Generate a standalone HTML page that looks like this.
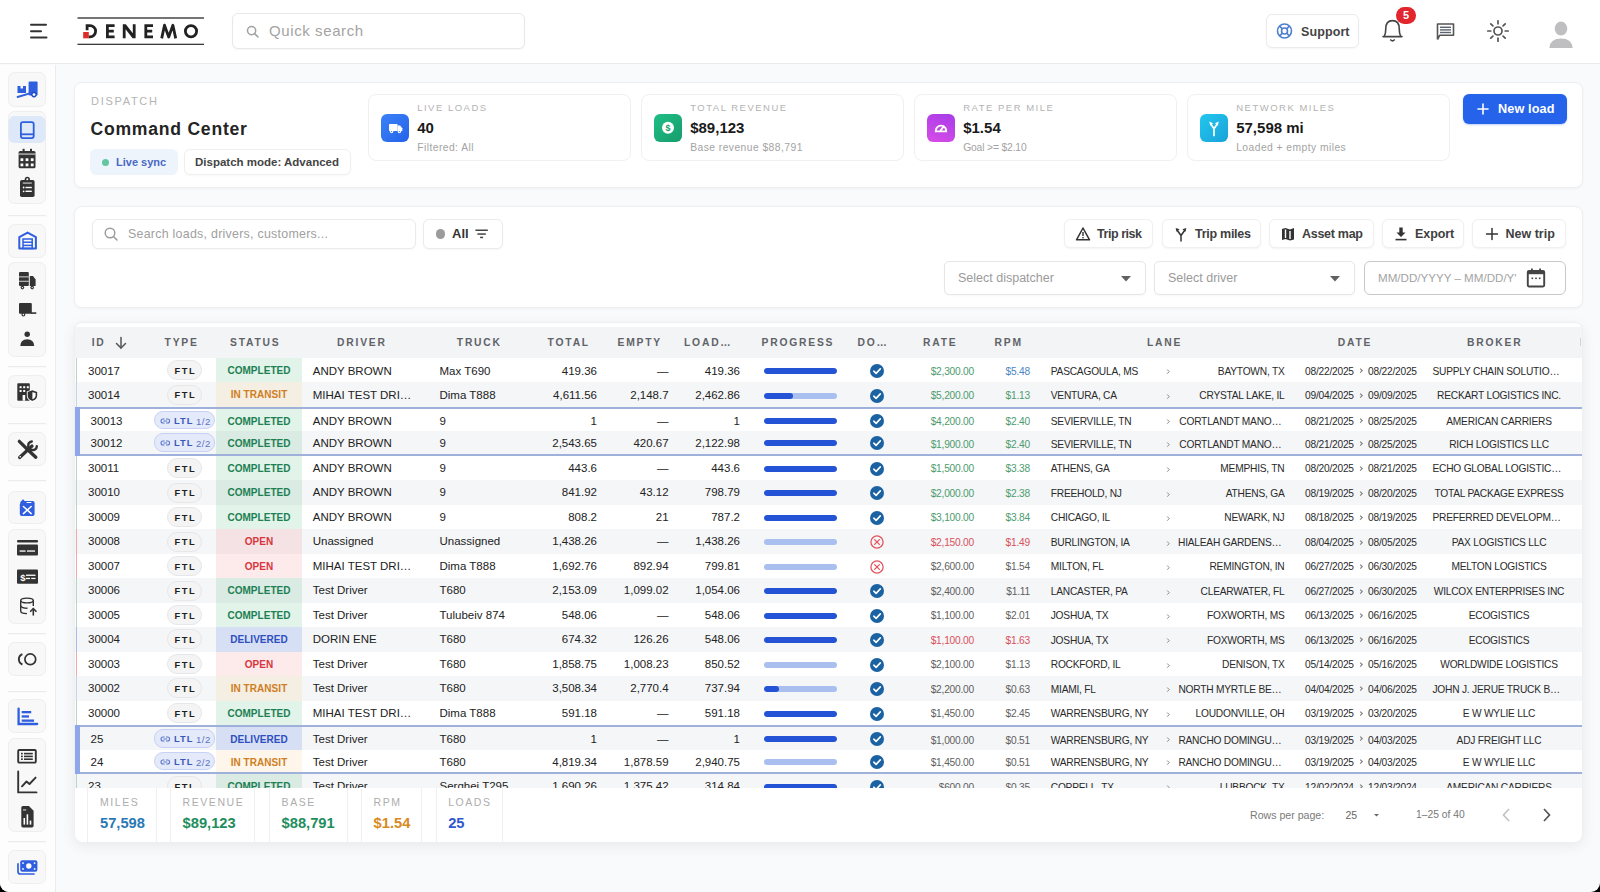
<!DOCTYPE html><html><head><meta charset="utf-8"><style>
*{box-sizing:border-box;margin:0;padding:0}
html,body{width:1600px;height:892px;overflow:hidden;background:#000}
body{font-family:"Liberation Sans",sans-serif;color:#222;position:relative}
.abs{position:absolute}
#app{position:absolute;left:0;top:0;width:1600px;height:892px;background:#f9fafb;border-radius:0 0 9px 9px;overflow:hidden}
.t{position:absolute;white-space:nowrap}
.card{position:absolute;background:#fff;border:1px solid #eeeff1;border-radius:8px;box-shadow:0 1px 3px rgba(0,0,0,0.04)}
.btn{position:absolute;background:#fff;border:1px solid #ebebeb;border-radius:6px;box-shadow:0 1px 2px rgba(0,0,0,0.04)}
.kpi{position:absolute;top:94px;width:263px;height:67px;background:#fff;border:1px solid #f0f0f1;border-radius:8px}
.kpi .ic{position:absolute;left:12.3px;top:19px;width:28px;height:28px;border-radius:6px}
.kpi .lb{position:absolute;left:48.2px;top:6.5px;font-size:9.5px;letter-spacing:1.5px;color:#b3b3b3;white-space:nowrap}
.kpi .vl{position:absolute;left:48.2px;top:24px;font-size:15px;font-weight:bold;color:#1a1a1a;white-space:nowrap}
.kpi .sb{position:absolute;left:48.2px;top:47px;font-size:10.3px;letter-spacing:0.45px;color:#a3a3a3;white-space:nowrap}
.hd{position:absolute;top:327px;height:31px;line-height:31px;font-size:10.3px;font-weight:bold;letter-spacing:1.8px;color:#5f6368;white-space:nowrap}
.row{position:absolute;left:75px;width:1507px}
.c{position:absolute;top:0;white-space:nowrap;font-size:11.5px;color:#222}
.sm{font-size:10.2px;letter-spacing:-0.22px;margin-top:0.5px}
</style></head><body><div id="app"><div class="abs" style="left:0;top:0;width:1600px;height:64px;background:#fff;border-bottom:1px solid #e9eaec"></div><svg class="abs" style="left:0;top:0" width="220" height="64"><g fill="#333"><rect x="30" y="23.8" width="17" height="2" rx="1"/><rect x="30" y="30.3" width="12" height="2" rx="1"/><rect x="30" y="36.6" width="17.5" height="2" rx="1"/></g><rect x="77.5" y="17.3" width="126.5" height="1.4" fill="#3a3a3a"/><rect x="77.5" y="43.7" width="126.5" height="1.3" fill="#3a3a3a"/><g fill="none" stroke="#222" stroke-width="2.8"><path d="M87.1 30.2 V25.6 H90 A5.6 5.6 0 0 1 90 36.8 H88.6"/><path d="M114.6 25.6 H107.4 V36.8 H114.6 M107.4 31.2 H113.8"/><path d="M153 25.6 H145.8 V36.8 H153 M145.8 31.2 H152.2"/><path d="M161.7 38.4 L164.5 25.2 L168.7 37.0 L172.9 25.2 L175.7 38.4" stroke-linejoin="round"/><circle cx="191" cy="31.2" r="5.6"/></g><rect x="83.2" y="32" width="5.6" height="6.3" fill="#e12a2a"/><path d="M122.8 38.2 V24.2 H125.8 L132.8 33.2 V24.2 H135.6 V38.2 H132.6 L125.6 29.2 V38.2 Z" fill="#222"/></svg><div class="btn" style="left:232px;top:13px;width:293px;height:36px;border-color:#e8e8e8"></div><svg class="abs" style="left:246px;top:25px" width="14" height="14"><circle cx="5.6" cy="5.6" r="4.1" fill="none" stroke="#a0a0a0" stroke-width="1.5"/><line x1="8.6" y1="8.6" x2="12" y2="12" stroke="#a0a0a0" stroke-width="1.6" stroke-linecap="round"/></svg><div class="t" style="left:269px;top:22px;font-size:15px;color:#a3a3a3;letter-spacing:0.6px">Quick search</div><div class="btn" style="left:1266px;top:14px;width:93px;height:34px"></div><svg class="abs" style="left:1275px;top:21px" width="20" height="20"><g fill="none" stroke="#4d7fd1" stroke-width="1.6"><circle cx="9.5" cy="10" r="7"/><circle cx="9.5" cy="10" r="3"/><line x1="4.6" y1="5.1" x2="7.4" y2="7.9"/><line x1="14.4" y1="5.1" x2="11.6" y2="7.9"/><line x1="4.6" y1="14.9" x2="7.4" y2="12.1"/><line x1="14.4" y1="14.9" x2="11.6" y2="12.1"/></g></svg><div class="t" style="left:1301px;top:24.5px;font-size:12.5px;font-weight:bold;color:#444;letter-spacing:0.1px">Support</div><svg class="abs" style="left:1378px;top:16px" width="30" height="30"><path d="M5 20.6 H24 M6.2 20.6 Q7.8 18 7.8 12.6 Q7.8 4.6 14.5 4.6 Q21.2 4.6 21.2 12.6 Q21.2 18 22.8 20.6" fill="none" stroke="#444" stroke-width="1.6" stroke-linejoin="round" stroke-linecap="round"/><path d="M12.8 24 Q14.5 25.6 16.2 24" fill="none" stroke="#444" stroke-width="1.7" stroke-linecap="round"/></svg><div class="abs" style="left:1396.3px;top:7.2px;width:19.6px;height:16.6px;border-radius:8.3px;background:#e1262d"></div><div class="t" style="left:1396.3px;top:8px;width:19.6px;text-align:center;font-size:11px;font-weight:bold;color:#fff;line-height:15px">5</div><svg class="abs" style="left:1430px;top:16px" width="30" height="30"><path d="M7.5 23.5 V8 H23.5 V19.2 H9.8 L7.5 23.5" fill="none" stroke="#555" stroke-width="1.6" stroke-linejoin="round"/><g fill="#5b6470"><rect x="10" y="10.6" width="11" height="1.4"/><rect x="10" y="13.2" width="11" height="1.4"/><rect x="10" y="15.8" width="11" height="1.4"/></g></svg><svg class="abs" style="left:1483px;top:16px" width="30" height="30"><g fill="none" stroke="#555" stroke-width="1.7" stroke-linecap="round"><circle cx="15" cy="15" r="4"/><line x1="22.20" y1="15.00" x2="25.20" y2="15.00"/><line x1="20.09" y1="20.09" x2="22.21" y2="22.21"/><line x1="15.00" y1="22.20" x2="15.00" y2="25.20"/><line x1="9.91" y1="20.09" x2="7.79" y2="22.21"/><line x1="7.80" y1="15.00" x2="4.80" y2="15.00"/><line x1="9.91" y1="9.91" x2="7.79" y2="7.79"/><line x1="15.00" y1="7.80" x2="15.00" y2="4.80"/><line x1="20.09" y1="9.91" x2="22.21" y2="7.79"/></g></svg><svg class="abs" style="left:1545px;top:18px" width="32" height="32"><g fill="#bfbfc1"><ellipse cx="16" cy="10.6" rx="6.3" ry="7"/><path d="M4.3 30 Q5 20.5 16 20.5 Q27 20.5 27.7 30 Z"/></g></svg><div class="abs" style="left:0;top:65px;width:56px;height:827px;background:#fdfdfd;border-right:1px solid #ececee"></div><svg class="abs" style="left:0;top:0" width="56" height="892" viewBox="0 0 56 892"><rect x="8.5" y="72.5" width="37" height="34" rx="6" fill="#f8f8f9" stroke="#eeeeef" stroke-width="1"/><rect x="8.5" y="111.5" width="37" height="92" rx="6" fill="#f8f8f9" stroke="#eeeeef" stroke-width="1"/><rect x="8.5" y="224.5" width="37" height="33" rx="6" fill="#f8f8f9" stroke="#eeeeef" stroke-width="1"/><rect x="8.5" y="262.5" width="37" height="94" rx="6" fill="#f8f8f9" stroke="#eeeeef" stroke-width="1"/><rect x="8.5" y="375.5" width="37" height="32" rx="6" fill="#f8f8f9" stroke="#eeeeef" stroke-width="1"/><rect x="8.5" y="432.5" width="37" height="33" rx="6" fill="#f8f8f9" stroke="#eeeeef" stroke-width="1"/><rect x="8.5" y="491.5" width="37" height="32" rx="6" fill="#f8f8f9" stroke="#eeeeef" stroke-width="1"/><rect x="8.5" y="529.5" width="37" height="94" rx="6" fill="#f8f8f9" stroke="#eeeeef" stroke-width="1"/><rect x="8.5" y="642.5" width="37" height="33" rx="6" fill="#f8f8f9" stroke="#eeeeef" stroke-width="1"/><rect x="8.5" y="699.5" width="37" height="33" rx="6" fill="#f8f8f9" stroke="#eeeeef" stroke-width="1"/><rect x="8.5" y="738.5" width="37" height="93" rx="6" fill="#f8f8f9" stroke="#eeeeef" stroke-width="1"/><rect x="8.5" y="850.5" width="37" height="33" rx="6" fill="#f8f8f9" stroke="#eeeeef" stroke-width="1"/><rect x="8" y="215" width="38" height="1.2" fill="#ebebec"/><rect x="8" y="366" width="38" height="1.2" fill="#ebebec"/><rect x="8" y="423" width="38" height="1.2" fill="#ebebec"/><rect x="8" y="480" width="38" height="1.2" fill="#ebebec"/><rect x="8" y="633" width="38" height="1.2" fill="#ebebec"/><rect x="8" y="691" width="38" height="1.2" fill="#ebebec"/><rect x="8" y="841" width="38" height="1.2" fill="#ebebec"/><rect x="8.5" y="116" width="37" height="27" rx="6" fill="#dde8f8"/><g fill="#2f5fdf"><rect x="28.6" y="81.5" width="9" height="14" rx="1"/><path d="M17.5 86 h3 v2.5 h2.5 v-2.5 h3 v7 h-8.5z"/><line x1="17.6" y1="97" x2="29" y2="93.6" stroke="#2f5fdf" stroke-width="1.9" stroke-linecap="round"/><circle cx="34" cy="94.6" r="2.8" fill="#1f4bc4"/><circle cx="34" cy="94.6" r="1.4" fill="#fff"/></g><g fill="none" stroke="#2f5fdf" stroke-width="1.8"><rect x="20.9" y="122.1" width="12.8" height="16" rx="2"/><line x1="20.9" y1="134.3" x2="33.7" y2="134.3"/></g><g fill="#333333"><rect x="18.6" y="151" width="16.9" height="17.2" rx="1.5"/><rect x="22.6" y="148.8" width="2" height="3.5"/><rect x="30" y="148.8" width="2" height="3.5"/></g><g fill="#fff"><rect x="18.6" y="153.6" width="16.9" height="0.9"/><rect x="20.5" y="158.3" width="2.8" height="2.8"/><rect x="25.6" y="158.3" width="2.8" height="2.8"/><rect x="30.8" y="158.3" width="2.8" height="2.8"/><rect x="20.5" y="163.5" width="2.8" height="2.8"/><rect x="25.6" y="163.5" width="2.8" height="2.8"/><rect x="30.8" y="163.5" width="2.8" height="2.8"/></g><g fill="#333333"><rect x="20" y="180" width="14.6" height="17" rx="1.8"/><circle cx="27.3" cy="179.3" r="2.6"/></g><g fill="#fff"><circle cx="27.3" cy="179.3" r="1"/><rect x="22.8" y="182.6" width="9" height="0.9"/><circle cx="23.6" cy="187.5" r="0.9"/><rect x="25.5" y="186.8" width="6.3" height="1.4"/><circle cx="23.6" cy="191.3" r="0.9"/><rect x="25.5" y="190.6" width="6.3" height="1.4"/></g><g fill="none" stroke="#2f5fdf" stroke-width="2" stroke-linejoin="round"><path d="M19.3 248.5 V237.2 L27.6 232.6 L35.9 237.2 V248.5 Z"/></g><g fill="none" stroke="#2f5fdf" stroke-width="1.5"><rect x="23" y="239" width="9.2" height="9.5"/><line x1="23" y1="242.2" x2="32.2" y2="242.2"/><line x1="23" y1="245.4" x2="32.2" y2="245.4"/></g><g fill="#333333"><rect x="19" y="272" width="9.8" height="14" rx="1"/><path d="M29.8 276 h3.2 l2.6 3.5 v6.5 h-5.8z"/><circle cx="22.4" cy="287.6" r="1.8"/><circle cx="32.2" cy="287.6" r="1.8"/></g><g fill="#fff"><rect x="19" y="276.5" width="9.8" height="0.8"/><rect x="19" y="280.8" width="9.8" height="0.8"/><circle cx="22.4" cy="287.6" r="0.7"/><circle cx="32.2" cy="287.6" r="0.7"/></g><g fill="#333333"><rect x="19" y="303" width="12.8" height="10.8" rx="1"/><rect x="31" y="312.3" width="5.3" height="1.6"/><circle cx="23.4" cy="314.6" r="1.9"/></g><circle cx="23.4" cy="314.6" r="0.8" fill="#fff"/><g fill="#333333"><circle cx="27.2" cy="334.2" r="2.7"/><path d="M20.3 346 Q20.6 339.2 27.2 339.2 Q33.9 339.2 34.2 346 Z"/></g><g fill="#333333"><rect x="17.3" y="383.3" width="12.5" height="17.4" rx="0.8"/></g><g fill="#fff"><rect x="19.6" y="386.2" width="2" height="2"/><rect x="23.2" y="386.2" width="2" height="2"/><rect x="26.8" y="386.2" width="2" height="2"/><rect x="19.6" y="390" width="2" height="2"/><rect x="23.2" y="390" width="2" height="2"/><rect x="22.6" y="395" width="2.6" height="5.7"/></g><path d="M27.6 392 L32.4 390.3 L37.3 392 V395.5 Q37.3 399.5 32.4 401 Q27.6 399.5 27.6 395.5 Z" fill="#fff" stroke="#fff" stroke-width="1.6"/><path d="M28.5 392.6 L32.4 391.2 L36.4 392.6 V395.5 Q36.4 398.9 32.4 400.1 Q28.5 398.9 28.5 395.5 Z" fill="none" stroke="#333333" stroke-width="1.6"/><path d="M32.4 391.2 V400.1 Q28.5 398.9 28.5 395.5 V392.6 Z" fill="#333333"/><g stroke="#333333" stroke-linecap="round" fill="none"><line x1="19.3" y1="441.3" x2="26.5" y2="448.5" stroke-width="3.2"/><line x1="27.5" y1="449.5" x2="35.8" y2="457.2" stroke-width="3.4"/><line x1="32" y1="446" x2="19.6" y2="457.5" stroke-width="3.2"/><path d="M31.8 441.5 A4.3 4.3 0 1 0 36.8 446.3" stroke-width="2.4"/></g><circle cx="20.2" cy="456.8" r="0.8" fill="#fff"/><g fill="#2f5fdf"><path d="M22 501 h10.6 a2 2 0 0 1 2 2 v11 a2 2 0 0 1 -2 2 h-10.8 a2 2 0 0 1 -2 -2 v-10 z"/><path d="M20 502.5 L23 499.2 L24.5 500.5 L21.5 503.5z"/></g><g stroke="#fff" stroke-width="1.5" stroke-linecap="round"><line x1="23.4" y1="506.5" x2="31.2" y2="513.6"/><line x1="31.2" y1="506.5" x2="23.4" y2="513.6"/><line x1="27" y1="502.5" x2="31" y2="502.5" stroke-width="1"/></g><g fill="#333333"><rect x="17" y="540" width="21" height="2.6" rx="1"/><rect x="17" y="544.6" width="21" height="10.8" rx="1"/></g><g fill="#fff"><rect x="19.6" y="550.4" width="6" height="1.3"/><rect x="27" y="550.4" width="8" height="1.3"/></g><g fill="#333333"><rect x="17" y="569.6" width="21" height="14.1" rx="1"/></g><text x="20.2" y="580.8" font-family="Liberation Sans" font-weight="bold" font-size="9.5" fill="#fff">$</text><g fill="#fff"><rect x="26" y="574.6" width="9.5" height="1.3"/><rect x="26" y="577.8" width="4" height="1.3"/><rect x="31.2" y="577.8" width="4.3" height="1.3"/></g><g fill="none" stroke="#333333" stroke-width="1.4"><ellipse cx="27" cy="600.5" rx="6.3" ry="2.4"/><path d="M20.7 600.5 V611 Q20.7 613.6 27 613.6"/><path d="M33.3 600.5 V606"/><path d="M20.7 605.7 Q21.5 608.2 27.5 608.2"/></g><g stroke="#333333" stroke-width="1.6" fill="none" stroke-linecap="round"><line x1="33.3" y1="609" x2="33.3" y2="615"/><path d="M30.6 611.3 L33.3 608.6 L36 611.3"/></g><g fill="none" stroke="#333333" stroke-width="1.7"><circle cx="30.3" cy="659.3" r="5.4"/><path d="M22.4 654.1 A5.6 5.6 0 0 0 22.4 664.5" stroke-width="1.9"/></g><g fill="none" stroke="#2f5fdf" stroke-width="2.3" stroke-linecap="round"><path d="M18.6 708.6 V724 H37.2"/></g><g fill="#2f5fdf"><rect x="21.7" y="711" width="9.5" height="2.3"/><rect x="21.7" y="715.3" width="7.3" height="2.3"/><rect x="21.7" y="719.5" width="12.3" height="2.3"/></g><g fill="none" stroke="#333333" stroke-width="1.9"><rect x="18.2" y="750" width="17.6" height="12.6" rx="1"/></g><g fill="#333333"><rect x="21" y="752.8" width="1.8" height="1.6"/><rect x="24" y="752.8" width="8.8" height="1.6"/><rect x="21" y="755.6" width="1.8" height="1.6"/><rect x="24" y="755.6" width="8.8" height="1.6"/><rect x="21" y="758.4" width="1.8" height="1.6"/><rect x="24" y="758.4" width="8.8" height="1.6"/></g><g fill="none" stroke="#333333" stroke-width="1.9" stroke-linecap="round" stroke-linejoin="round"><path d="M18.2 771.5 V792.4 H36.5"/><path d="M22 786.3 L26.5 781.5 L29.5 784 L35.6 777.6"/></g><path d="M21.3 807.6 a1.6 1.6 0 0 1 1.6 -1.6 h6 l4.7 4.7 v15.1 a1.6 1.6 0 0 1 -1.6 1.6 h-9.1 a1.6 1.6 0 0 1 -1.6 -1.6 z" fill="#333333"/><g fill="#fff"><rect x="23.5" y="818" width="1.6" height="6.6"/><rect x="26.6" y="814.3" width="1.6" height="10.3"/><rect x="29.7" y="820.6" width="1.6" height="4"/><rect x="23" y="809.5" width="3.2" height="0.9"/></g><g fill="none" stroke="#2f5fdf" stroke-width="1.7" stroke-linecap="round"><path d="M18 863.8 V871.5 Q18 874 20.5 874 H34"/></g><rect x="20.2" y="860.3" width="17.2" height="11.5" rx="2" fill="#2f5fdf"/><g fill="#fff"><circle cx="28.8" cy="866" r="2.7"/><circle cx="23" cy="863.1" r="0.9"/><circle cx="34.6" cy="863.1" r="0.9"/><circle cx="23" cy="868.9" r="0.9"/><circle cx="34.6" cy="868.9" r="0.9"/></g></svg><div class="card" style="left:74px;top:82px;width:1509px;height:106px"></div><div class="t" style="left:91px;top:95px;font-size:11px;letter-spacing:1.7px;color:#b4b4b4">DISPATCH</div><div class="t" style="left:90.5px;top:118.5px;font-size:17.6px;font-weight:bold;color:#242424;letter-spacing:0.75px">Command Center</div><div class="abs" style="left:90px;top:149px;width:88px;height:26px;border-radius:6px;background:#eef4fc"></div><div class="abs" style="left:101.8px;top:158.6px;width:7px;height:7px;border-radius:50%;background:#62c7a0"></div><div class="t" style="left:116px;top:156px;font-size:11px;font-weight:bold;color:#4a68c4">Live sync</div><div class="btn" style="left:183.5px;top:149px;width:167.5px;height:26px;box-shadow:0 1px 2px rgba(0,0,0,0.03);border-color:#efefef"></div><div class="t" style="left:195px;top:156px;font-size:11.5px;font-weight:bold;color:#444">Dispatch mode: Advanced</div><div class="kpi" style="left:368px"><div class="ic" style="background:linear-gradient(135deg,#3b82f6,#2563eb)"><svg width="28" height="28"><g fill="#fff"><rect x="8" y="10" width="8.6" height="7" rx="0.8"/><path d="M16.6 11.6 h2.5 l2.2 2.6 v2.8 h-4.7z"/><circle cx="10.6" cy="17.6" r="1.7"/><circle cx="18.4" cy="17.6" r="1.7"/></g><g fill="#2f74ee"><circle cx="10.6" cy="17.6" r="0.6"/><circle cx="18.4" cy="17.6" r="0.6"/></g></svg></div><div class="lb">LIVE LOADS</div><div class="vl">40</div><div class="sb" style="">Filtered: All</div></div><div class="kpi" style="left:641px"><div class="ic" style="background:linear-gradient(135deg,#1fbf85,#179c6d)"><svg width="28" height="28"><circle cx="14" cy="13.8" r="6" fill="#fff"/><text x="14" y="17.1" text-anchor="middle" font-family="Liberation Sans" font-weight="bold" font-size="9" fill="#1b9a6c">$</text></svg></div><div class="lb">TOTAL REVENUE</div><div class="vl">$89,123</div><div class="sb" style="">Base revenue $88,791</div></div><div class="kpi" style="left:914px"><div class="ic" style="background:linear-gradient(200deg,#a73ce8,#d84ce6)"><svg width="28" height="28"><path d="M7.8 18.2 A6.3 6.3 0 1 1 20.2 18.2 Z" fill="#fff"/><path d="M9.8 16.6 A4.2 4.2 0 1 1 18.2 16.6 Z" fill="#c046e4"/><line x1="13.6" y1="16.4" x2="16.6" y2="12.6" stroke="#fff" stroke-width="1.8" stroke-linecap="round"/></svg></div><div class="lb">RATE PER MILE</div><div class="vl">$1.54</div><div class="sb" style="letter-spacing:-0.15px">Goal &gt;= $2.10</div></div><div class="kpi" style="left:1187px"><div class="ic" style="background:linear-gradient(135deg,#22c7ef,#19a2d8)"><svg width="28" height="28"><g fill="none" stroke="#fff" stroke-width="1.7" stroke-linecap="round" stroke-linejoin="round"><path d="M14 21.5 V14.8 L10.8 10 M14 14.8 L17.2 10"/></g><g fill="#fff"><path d="M9.2 7.6 L13 9.2 L10.2 11.8z"/><path d="M18.8 7.6 L15 9.2 L17.8 11.8z"/></g></svg></div><div class="lb">NETWORK MILES</div><div class="vl">57,598 mi</div><div class="sb" style="">Loaded + empty miles</div></div><div class="abs" style="left:1463px;top:94px;width:103.5px;height:30px;border-radius:6px;background:#2563eb;box-shadow:0 1px 2px rgba(37,99,235,0.3)"></div><svg class="abs" style="left:1476px;top:102px" width="14" height="14"><g stroke="#fff" stroke-width="1.6" stroke-linecap="round"><line x1="7" y1="2" x2="7" y2="12"/><line x1="2" y1="7" x2="12" y2="7"/></g></svg><div class="t" style="left:1498px;top:101.5px;font-size:12.7px;font-weight:bold;color:#fff;letter-spacing:0.1px">New load</div><div class="card" style="left:74px;top:206px;width:1509px;height:102px"></div><div class="btn" style="left:92px;top:219px;width:324px;height:29.5px;box-shadow:0 1px 2px rgba(0,0,0,0.03)"></div><svg class="abs" style="left:103px;top:226px" width="16" height="16"><circle cx="7" cy="7" r="4.8" fill="none" stroke="#9a9a9a" stroke-width="1.4"/><line x1="10.5" y1="10.5" x2="14" y2="14" stroke="#9a9a9a" stroke-width="1.5" stroke-linecap="round"/></svg><div class="t" style="left:128px;top:227.3px;font-size:12.4px;color:#a0a0a0;letter-spacing:0.27px">Search loads, drivers, customers...</div><div class="btn" style="left:423px;top:219px;width:80px;height:29.5px"></div><div class="abs" style="left:435.7px;top:229px;width:9.6px;height:9.6px;border-radius:50%;background:#9b9b9b"></div><div class="t" style="left:452px;top:226px;font-size:13px;font-weight:bold;color:#333">All</div><svg class="abs" style="left:474px;top:226px" width="16" height="16"><g fill="#444"><rect x="1.4" y="3.5" width="12.4" height="1.5"/><rect x="3.4" y="7.3" width="8.4" height="1.5"/><rect x="6.1" y="10.7" width="3" height="1.5"/></g></svg><div class="btn" style="left:1064px;top:219px;width:89px;height:29px;border-color:#f0f0f0;box-shadow:0 1px 2px rgba(0,0,0,0.05)"></div><div class="abs" style="left:1074px;top:225px;width:18px;height:18px"><svg width="18" height="18"><path d="M9 3 L15.5 14.8 H2.5 Z" fill="none" stroke="#333" stroke-width="1.5" stroke-linejoin="round"/><rect x="8.3" y="7" width="1.4" height="4" fill="#333"/><rect x="8.3" y="12" width="1.4" height="1.4" fill="#333"/></svg></div><div class="t" style="left:1097px;top:226.5px;font-size:12.5px;font-weight:bold;color:#3f3f3f;letter-spacing:-0.45px">Trip risk</div><div class="btn" style="left:1161.6px;top:219px;width:99.4px;height:29px;border-color:#f0f0f0;box-shadow:0 1px 2px rgba(0,0,0,0.05)"></div><div class="abs" style="left:1172px;top:225px;width:18px;height:18px"><svg width="18" height="18"><g fill="none" stroke="#333" stroke-width="1.5" stroke-linecap="round" stroke-linejoin="round"><path d="M9 16 V10.5 L5.2 5.2 M9 10.5 L12.8 5.2"/></g><g fill="#333"><path d="M3.6 3 L7.6 4.2 L4.6 6.8z"/><path d="M14.4 3 L10.4 4.2 L13.4 6.8z"/></g></svg></div><div class="t" style="left:1195px;top:226.5px;font-size:12.5px;font-weight:bold;color:#3f3f3f;letter-spacing:-0.27px">Trip miles</div><div class="btn" style="left:1269.4px;top:219px;width:104.6px;height:29px;border-color:#f0f0f0;box-shadow:0 1px 2px rgba(0,0,0,0.05)"></div><div class="abs" style="left:1279px;top:225px;width:18px;height:18px"><svg width="18" height="18"><path d="M3 4 L6.5 3 L11 4.5 L15 3 V14.5 L11 15.5 L6.5 14 L3 15z" fill="#333"/><path d="M6.5 4.5 V13 M11 6 V14" stroke="#fff" stroke-width="1.4"/></svg></div><div class="t" style="left:1302px;top:226.5px;font-size:12.5px;font-weight:bold;color:#3f3f3f;letter-spacing:-0.28px">Asset map</div><div class="btn" style="left:1381.6px;top:219px;width:82.4px;height:29px;border-color:#f0f0f0;box-shadow:0 1px 2px rgba(0,0,0,0.05)"></div><div class="abs" style="left:1392px;top:225px;width:18px;height:18px"><svg width="18" height="18"><g fill="#333"><path d="M7.3 2.5 h3.4 v5 h2.8 L9 12 L4.5 7.5 h2.8z"/><rect x="3.5" y="13.8" width="11" height="1.6"/></g></svg></div><div class="t" style="left:1415px;top:226.5px;font-size:12.5px;font-weight:bold;color:#3f3f3f;letter-spacing:-0.08px">Export</div><div class="btn" style="left:1471.6px;top:219px;width:94.4px;height:29px;border-color:#f0f0f0;box-shadow:0 1px 2px rgba(0,0,0,0.05)"></div><div class="abs" style="left:1482.5px;top:225px;width:18px;height:18px"><svg width="18" height="18"><g stroke="#333" stroke-width="1.5" stroke-linecap="round"><line x1="9" y1="3.5" x2="9" y2="14.5"/><line x1="3.5" y1="9" x2="14.5" y2="9"/></g></svg></div><div class="t" style="left:1505.5px;top:226.5px;font-size:12.5px;font-weight:bold;color:#3f3f3f;letter-spacing:0px">New trip</div><div class="btn" style="left:943.7px;top:260.5px;width:202px;height:34px;border-color:#e6e6e6;border-radius:5px;box-shadow:0 1px 2px rgba(0,0,0,0.03)"></div><div class="t" style="left:958.0px;top:270.5px;font-size:12.5px;color:#9b9b9b">Select dispatcher</div><svg class="abs" style="left:1121px;top:276px" width="11" height="6"><path d="M0 0 H10 L5 5.5z" fill="#616161"/></svg><div class="btn" style="left:1153.7px;top:260.5px;width:201.5px;height:34px;border-color:#e6e6e6;border-radius:5px;box-shadow:0 1px 2px rgba(0,0,0,0.03)"></div><div class="t" style="left:1168.0px;top:270.5px;font-size:12.5px;color:#9b9b9b">Select driver</div><svg class="abs" style="left:1330px;top:276px" width="11" height="6"><path d="M0 0 H10 L5 5.5z" fill="#616161"/></svg><div class="abs" style="left:1363.7px;top:260.5px;width:202.5px;height:34.5px;border:1.6px solid #c8c8c8;border-radius:6px;background:#fff"></div><div class="t" style="left:1378px;top:270.7px;font-size:11.6px;color:#a3a3a3">MM/DD/YYYY – MM/DD/Y&#39;</div><svg class="abs" style="left:1526px;top:267px" width="20" height="22"><rect x="1.8" y="4" width="16.4" height="15.5" rx="1.2" fill="none" stroke="#444" stroke-width="1.9"/><rect x="1.8" y="4" width="16.4" height="3.2" fill="#444"/><rect x="5" y="1.5" width="1.8" height="3.5" fill="#444"/><rect x="13.2" y="1.5" width="1.8" height="3.5" fill="#444"/><g fill="#444"><rect x="5.5" y="10.5" width="1.6" height="1.6"/><rect x="9.2" y="10.5" width="1.6" height="1.6"/><rect x="12.9" y="10.5" width="1.6" height="1.6"/></g></svg><div class="card" style="left:74px;top:322px;width:1509px;height:520px;border-radius:8px;box-shadow:0 4px 14px rgba(0,0,0,0.07)"></div><div class="abs" style="left:75px;top:326.5px;width:1507px;height:31.5px;background:#f3f4f6"></div><div class="hd" style="left:91.7px">ID</div><div class="hd" style="left:164.6px">TYPE</div><div class="hd" style="left:230px">STATUS</div><div class="hd" style="left:337px">DRIVER</div><div class="hd" style="left:456.8px">TRUCK</div><div class="hd" style="left:547.6px">TOTAL</div><div class="hd" style="left:617.5px">EMPTY</div><div class="hd" style="left:684px">LOAD…</div><div class="hd" style="left:761.5px">PROGRESS</div><div class="hd" style="left:857.5px">DO…</div><div class="hd" style="left:923px">RATE</div><div class="hd" style="left:994.5px">RPM</div><div class="hd" style="left:1147px">LANE</div><div class="hd" style="left:1337.8px">DATE</div><div class="hd" style="left:1467px">BROKER</div><svg class="abs" style="left:114px;top:336px" width="14" height="14"><g fill="none" stroke="#555" stroke-width="1.5" stroke-linecap="round" stroke-linejoin="round"><line x1="7" y1="1.5" x2="7" y2="12"/><path d="M2.5 7.5 L7 12 L11.5 7.5"/></g></svg><div class="abs" style="left:1579.5px;top:338px;width:1.5px;height:8px;background:#d5d5d5"></div><div class="abs" style="left:75px;top:358px;width:1507px;height:429.5px;overflow:hidden"><div class="abs" style="left:0;top:0.0px;width:1507px;height:24.47px;background:#ffffff"><div class="abs" style="left:0.5px;top:0;width:1.6px;height:24.47px;background:#b6d5c4"></div><div class="c" style="left:13px;height:24.47px;line-height:26.869999999999997px">30017</div><div class="abs" style="left:92px;top:2.2349999999999994px;width:35px;height:20px;border-radius:10px;background:#f4f4f5;border:1px solid #e7e7e9"></div><div class="c" style="left:92px;width:35px;text-align:center;height:24.47px;line-height:27.47px;font-size:9.3px;font-weight:bold;letter-spacing:1.6px;color:#1e1e1e;padding-left:1.6px">FTL</div><div class="abs" style="left:141px;top:0;width:86px;height:24.47px;background:rgba(52,168,100,0.14)"></div><div class="c" style="left:141px;width:86px;text-align:center;height:24.47px;line-height:26.869999999999997px;font-size:10px;font-weight:bold;color:#1d8053;letter-spacing:0.05px">COMPLETED</div><div class="c" style="left:237.75px;height:24.47px;line-height:26.869999999999997px">ANDY BROWN</div><div class="c" style="left:364.5px;height:24.47px;line-height:26.869999999999997px">Max T690</div><div class="c" style="right:985px;height:24.47px;line-height:26.869999999999997px">419.36</div><div class="c" style="right:913.4px;height:24.47px;line-height:26.869999999999997px">—</div><div class="c" style="right:842px;height:24.47px;line-height:26.869999999999997px">419.36</div><div class="abs" style="left:689px;top:10.035px;width:73.4px;height:6px;border-radius:3px;background:#a9bfef;overflow:hidden"><div style="width:100.0%;height:6px;background:#2453d6;border-radius:3px"></div></div><svg class="abs" style="left:795px;top:6.034999999999999px" width="14" height="14"><circle cx="7" cy="7" r="7" fill="#1b62a3"/><path d="M3.8 7.2 L6.1 9.4 L10.3 4.9" fill="none" stroke="#fff" stroke-width="1.6" stroke-linecap="round" stroke-linejoin="round"/></svg><div class="c sm" style="right:608px;height:24.47px;line-height:26.869999999999997px;color:#4c9c6e">$2,300.00</div><div class="c sm" style="right:552px;height:24.47px;line-height:26.869999999999997px;color:#4a86c6">$5.48</div><div class="c sm" style="left:975.75px;height:24.47px;line-height:26.869999999999997px;color:#2a2a2a">PASCAGOULA, MS</div><svg class="abs" style="left:1090.5px;top:10.235px" width="5" height="7"><path d="M1.2 1.5 L3.2 3.6 L1.2 5.7" fill="none" stroke="#8a8a8a" stroke-width="1"/></svg><div class="c sm" style="right:297.5px;height:24.47px;line-height:26.869999999999997px;color:#2a2a2a">BAYTOWN, TX</div><div class="c sm" style="left:1230px;height:24.47px;line-height:26.869999999999997px;color:#2a2a2a">08/22/2025</div><svg class="abs" style="left:1284.3px;top:9.235px" width="5" height="7"><path d="M1.2 1.6 L3.2 3.6 L1.2 5.6" fill="none" stroke="#808080" stroke-width="1.2"/></svg><div class="c sm" style="left:1293px;height:24.47px;line-height:26.869999999999997px;color:#2a2a2a">08/22/2025</div><div class="c sm" style="left:1357.5px;height:24.47px;line-height:26.869999999999997px;color:#2a2a2a">SUPPLY CHAIN SOLUTIO…</div></div><div class="abs" style="left:0;top:24.47px;width:1507px;height:24.47px;background:#f5f6f8"><div class="abs" style="left:0.5px;top:0;width:1.6px;height:24.47px;background:#c9d2e6"></div><div class="c" style="left:13px;height:24.47px;line-height:26.869999999999997px">30014</div><div class="abs" style="left:92px;top:2.2349999999999994px;width:35px;height:20px;border-radius:10px;background:#f4f4f5;border:1px solid #e7e7e9"></div><div class="c" style="left:92px;width:35px;text-align:center;height:24.47px;line-height:27.47px;font-size:9.3px;font-weight:bold;letter-spacing:1.6px;color:#1e1e1e;padding-left:1.6px">FTL</div><div class="abs" style="left:141px;top:0;width:86px;height:24.47px;background:rgba(245,170,60,0.11)"></div><div class="c" style="left:141px;width:86px;text-align:center;height:24.47px;line-height:26.869999999999997px;font-size:10px;font-weight:bold;color:#cf7f1e;letter-spacing:0.05px">IN TRANSIT</div><div class="c" style="left:237.75px;height:24.47px;line-height:26.869999999999997px">MIHAI TEST DRI…</div><div class="c" style="left:364.5px;height:24.47px;line-height:26.869999999999997px">Dima T888</div><div class="c" style="right:985px;height:24.47px;line-height:26.869999999999997px">4,611.56</div><div class="c" style="right:913.4px;height:24.47px;line-height:26.869999999999997px">2,148.7</div><div class="c" style="right:842px;height:24.47px;line-height:26.869999999999997px">2,462.86</div><div class="abs" style="left:689px;top:10.035px;width:73.4px;height:6px;border-radius:3px;background:#a9bfef;overflow:hidden"><div style="width:39.0%;height:6px;background:#2453d6;border-radius:3px"></div></div><svg class="abs" style="left:795px;top:6.034999999999999px" width="14" height="14"><circle cx="7" cy="7" r="7" fill="#1b62a3"/><path d="M3.8 7.2 L6.1 9.4 L10.3 4.9" fill="none" stroke="#fff" stroke-width="1.6" stroke-linecap="round" stroke-linejoin="round"/></svg><div class="c sm" style="right:608px;height:24.47px;line-height:26.869999999999997px;color:#4c9c6e">$5,200.00</div><div class="c sm" style="right:552px;height:24.47px;line-height:26.869999999999997px;color:#4c9c6e">$1.13</div><div class="c sm" style="left:975.75px;height:24.47px;line-height:26.869999999999997px;color:#2a2a2a">VENTURA, CA</div><svg class="abs" style="left:1090.5px;top:10.235px" width="5" height="7"><path d="M1.2 1.5 L3.2 3.6 L1.2 5.7" fill="none" stroke="#8a8a8a" stroke-width="1"/></svg><div class="c sm" style="right:297.5px;height:24.47px;line-height:26.869999999999997px;color:#2a2a2a">CRYSTAL LAKE, IL</div><div class="c sm" style="left:1230px;height:24.47px;line-height:26.869999999999997px;color:#2a2a2a">09/04/2025</div><svg class="abs" style="left:1284.3px;top:9.235px" width="5" height="7"><path d="M1.2 1.6 L3.2 3.6 L1.2 5.6" fill="none" stroke="#808080" stroke-width="1.2"/></svg><div class="c sm" style="left:1293px;height:24.47px;line-height:26.869999999999997px;color:#2a2a2a">09/09/2025</div><div class="c sm" style="left:1324px;width:200px;text-align:center;height:24.47px;line-height:26.869999999999997px;color:#2a2a2a">RECKART LOGISTICS INC.</div></div><div class="abs" style="left:0;top:48.94px;width:1507px;height:2px;background:#9fb1da"></div><div class="abs" style="left:0;top:50.94px;width:1507px;height:22.5px;background:#ffffff"><div class="c" style="left:15.5px;height:22.5px;line-height:25.5px">30013</div><div class="abs" style="left:79px;top:2.0px;width:61px;height:18.5px;border-radius:9px;background:#e5eafb;border:1px solid #c6d1f3"></div><svg class="abs" style="left:84.5px;top:8.05px" width="11" height="8"><g fill="none" stroke="#5a78c8" stroke-width="1.1"><path d="M4.6 2 H3 a2 2 0 0 0 0 4 H4.6 M6 2 H7.6 a2 2 0 0 1 0 4 H6 M3.4 4 H7.2"/></g></svg><div class="c" style="left:99px;height:22.5px;line-height:25.5px;font-size:9.3px;font-weight:bold;letter-spacing:1.1px;color:#3a58b8">LTL</div><div class="c" style="left:121px;height:22.5px;line-height:25.5px;font-size:9.6px;letter-spacing:0.5px;color:#5a73c4">1/2</div><div class="abs" style="left:141px;top:0;width:86px;height:22.5px;background:rgba(52,168,100,0.14)"></div><div class="c" style="left:141px;width:86px;text-align:center;height:22.5px;line-height:25.5px;font-size:10px;font-weight:bold;color:#1d8053;letter-spacing:0.05px">COMPLETED</div><div class="c" style="left:237.75px;height:22.5px;line-height:25.5px">ANDY BROWN</div><div class="c" style="left:364.5px;height:22.5px;line-height:25.5px">9</div><div class="c" style="right:985px;height:22.5px;line-height:25.5px">1</div><div class="c" style="right:913.4px;height:22.5px;line-height:25.5px">—</div><div class="c" style="right:842px;height:22.5px;line-height:25.5px">1</div><div class="abs" style="left:689px;top:9.05px;width:73.4px;height:6px;border-radius:3px;background:#a9bfef;overflow:hidden"><div style="width:100.0%;height:6px;background:#2453d6;border-radius:3px"></div></div><svg class="abs" style="left:795px;top:5.05px" width="14" height="14"><circle cx="7" cy="7" r="7" fill="#1b62a3"/><path d="M3.8 7.2 L6.1 9.4 L10.3 4.9" fill="none" stroke="#fff" stroke-width="1.6" stroke-linecap="round" stroke-linejoin="round"/></svg><div class="c sm" style="right:608px;height:22.5px;line-height:25.5px;color:#4c9c6e">$4,200.00</div><div class="c sm" style="right:552px;height:22.5px;line-height:25.5px;color:#4c9c6e">$2.40</div><div class="c sm" style="left:975.75px;height:22.5px;line-height:25.5px;color:#2a2a2a">SEVIERVILLE, TN</div><svg class="abs" style="left:1090.5px;top:9.25px" width="5" height="7"><path d="M1.2 1.5 L3.2 3.6 L1.2 5.7" fill="none" stroke="#8a8a8a" stroke-width="1"/></svg><div class="c sm" style="right:300.5px;height:22.5px;line-height:25.5px;color:#2a2a2a">CORTLANDT MANO…</div><div class="c sm" style="left:1230px;height:22.5px;line-height:25.5px;color:#2a2a2a">08/21/2025</div><svg class="abs" style="left:1284.3px;top:8.25px" width="5" height="7"><path d="M1.2 1.6 L3.2 3.6 L1.2 5.6" fill="none" stroke="#808080" stroke-width="1.2"/></svg><div class="c sm" style="left:1293px;height:22.5px;line-height:25.5px;color:#2a2a2a">08/25/2025</div><div class="c sm" style="left:1324px;width:200px;text-align:center;height:22.5px;line-height:25.5px;color:#2a2a2a">AMERICAN CARRIERS</div></div><div class="abs" style="left:0;top:73.44px;width:1507px;height:22.5px;background:#f5f6f8"><div class="c" style="left:15.5px;height:22.5px;line-height:25.5px">30012</div><div class="abs" style="left:79px;top:2.0px;width:61px;height:18.5px;border-radius:9px;background:#e5eafb;border:1px solid #c6d1f3"></div><svg class="abs" style="left:84.5px;top:8.05px" width="11" height="8"><g fill="none" stroke="#5a78c8" stroke-width="1.1"><path d="M4.6 2 H3 a2 2 0 0 0 0 4 H4.6 M6 2 H7.6 a2 2 0 0 1 0 4 H6 M3.4 4 H7.2"/></g></svg><div class="c" style="left:99px;height:22.5px;line-height:25.5px;font-size:9.3px;font-weight:bold;letter-spacing:1.1px;color:#3a58b8">LTL</div><div class="c" style="left:121px;height:22.5px;line-height:25.5px;font-size:9.6px;letter-spacing:0.5px;color:#5a73c4">2/2</div><div class="abs" style="left:141px;top:0;width:86px;height:22.5px;background:rgba(52,168,100,0.14)"></div><div class="c" style="left:141px;width:86px;text-align:center;height:22.5px;line-height:25.5px;font-size:10px;font-weight:bold;color:#1d8053;letter-spacing:0.05px">COMPLETED</div><div class="c" style="left:237.75px;height:22.5px;line-height:25.5px">ANDY BROWN</div><div class="c" style="left:364.5px;height:22.5px;line-height:25.5px">9</div><div class="c" style="right:985px;height:22.5px;line-height:25.5px">2,543.65</div><div class="c" style="right:913.4px;height:22.5px;line-height:25.5px">420.67</div><div class="c" style="right:842px;height:22.5px;line-height:25.5px">2,122.98</div><div class="abs" style="left:689px;top:9.05px;width:73.4px;height:6px;border-radius:3px;background:#a9bfef;overflow:hidden"><div style="width:100.0%;height:6px;background:#2453d6;border-radius:3px"></div></div><svg class="abs" style="left:795px;top:5.05px" width="14" height="14"><circle cx="7" cy="7" r="7" fill="#1b62a3"/><path d="M3.8 7.2 L6.1 9.4 L10.3 4.9" fill="none" stroke="#fff" stroke-width="1.6" stroke-linecap="round" stroke-linejoin="round"/></svg><div class="c sm" style="right:608px;height:22.5px;line-height:25.5px;color:#4c9c6e">$1,900.00</div><div class="c sm" style="right:552px;height:22.5px;line-height:25.5px;color:#4c9c6e">$2.40</div><div class="c sm" style="left:975.75px;height:22.5px;line-height:25.5px;color:#2a2a2a">SEVIERVILLE, TN</div><svg class="abs" style="left:1090.5px;top:9.25px" width="5" height="7"><path d="M1.2 1.5 L3.2 3.6 L1.2 5.7" fill="none" stroke="#8a8a8a" stroke-width="1"/></svg><div class="c sm" style="right:300.5px;height:22.5px;line-height:25.5px;color:#2a2a2a">CORTLANDT MANO…</div><div class="c sm" style="left:1230px;height:22.5px;line-height:25.5px;color:#2a2a2a">08/21/2025</div><svg class="abs" style="left:1284.3px;top:8.25px" width="5" height="7"><path d="M1.2 1.6 L3.2 3.6 L1.2 5.6" fill="none" stroke="#808080" stroke-width="1.2"/></svg><div class="c sm" style="left:1293px;height:22.5px;line-height:25.5px;color:#2a2a2a">08/25/2025</div><div class="c sm" style="left:1324px;width:200px;text-align:center;height:22.5px;line-height:25.5px;color:#2a2a2a">RICH LOGISTICS LLC</div></div><div class="abs" style="left:0;top:95.94px;width:1507px;height:2px;background:#9fb1da"></div><div class="abs" style="left:0;top:48.94px;width:4.5px;height:49.0px;background:#8ea6ea"></div><div class="abs" style="left:0;top:97.94px;width:1507px;height:24.47px;background:#ffffff"><div class="abs" style="left:0.5px;top:0;width:1.6px;height:24.47px;background:#b6d5c4"></div><div class="c" style="left:13px;height:24.47px;line-height:25.869999999999997px">30011</div><div class="abs" style="left:92px;top:2.2349999999999994px;width:35px;height:20px;border-radius:10px;background:#f4f4f5;border:1px solid #e7e7e9"></div><div class="c" style="left:92px;width:35px;text-align:center;height:24.47px;line-height:27.47px;font-size:9.3px;font-weight:bold;letter-spacing:1.6px;color:#1e1e1e;padding-left:1.6px">FTL</div><div class="abs" style="left:141px;top:0;width:86px;height:24.47px;background:rgba(52,168,100,0.14)"></div><div class="c" style="left:141px;width:86px;text-align:center;height:24.47px;line-height:25.869999999999997px;font-size:10px;font-weight:bold;color:#1d8053;letter-spacing:0.05px">COMPLETED</div><div class="c" style="left:237.75px;height:24.47px;line-height:25.869999999999997px">ANDY BROWN</div><div class="c" style="left:364.5px;height:24.47px;line-height:25.869999999999997px">9</div><div class="c" style="right:985px;height:24.47px;line-height:25.869999999999997px">443.6</div><div class="c" style="right:913.4px;height:24.47px;line-height:25.869999999999997px">—</div><div class="c" style="right:842px;height:24.47px;line-height:25.869999999999997px">443.6</div><div class="abs" style="left:689px;top:10.035px;width:73.4px;height:6px;border-radius:3px;background:#a9bfef;overflow:hidden"><div style="width:100.0%;height:6px;background:#2453d6;border-radius:3px"></div></div><svg class="abs" style="left:795px;top:6.034999999999999px" width="14" height="14"><circle cx="7" cy="7" r="7" fill="#1b62a3"/><path d="M3.8 7.2 L6.1 9.4 L10.3 4.9" fill="none" stroke="#fff" stroke-width="1.6" stroke-linecap="round" stroke-linejoin="round"/></svg><div class="c sm" style="right:608px;height:24.47px;line-height:25.869999999999997px;color:#4c9c6e">$1,500.00</div><div class="c sm" style="right:552px;height:24.47px;line-height:25.869999999999997px;color:#4c9c6e">$3.38</div><div class="c sm" style="left:975.75px;height:24.47px;line-height:25.869999999999997px;color:#2a2a2a">ATHENS, GA</div><svg class="abs" style="left:1090.5px;top:10.235px" width="5" height="7"><path d="M1.2 1.5 L3.2 3.6 L1.2 5.7" fill="none" stroke="#8a8a8a" stroke-width="1"/></svg><div class="c sm" style="right:297.5px;height:24.47px;line-height:25.869999999999997px;color:#2a2a2a">MEMPHIS, TN</div><div class="c sm" style="left:1230px;height:24.47px;line-height:25.869999999999997px;color:#2a2a2a">08/20/2025</div><svg class="abs" style="left:1284.3px;top:9.235px" width="5" height="7"><path d="M1.2 1.6 L3.2 3.6 L1.2 5.6" fill="none" stroke="#808080" stroke-width="1.2"/></svg><div class="c sm" style="left:1293px;height:24.47px;line-height:25.869999999999997px;color:#2a2a2a">08/21/2025</div><div class="c sm" style="left:1357.5px;height:24.47px;line-height:25.869999999999997px;color:#2a2a2a">ECHO GLOBAL LOGISTIC…</div></div><div class="abs" style="left:0;top:122.41px;width:1507px;height:24.47px;background:#f5f6f8"><div class="abs" style="left:0.5px;top:0;width:1.6px;height:24.47px;background:#b6d5c4"></div><div class="c" style="left:13px;height:24.47px;line-height:25.869999999999997px">30010</div><div class="abs" style="left:92px;top:2.2349999999999994px;width:35px;height:20px;border-radius:10px;background:#f4f4f5;border:1px solid #e7e7e9"></div><div class="c" style="left:92px;width:35px;text-align:center;height:24.47px;line-height:27.47px;font-size:9.3px;font-weight:bold;letter-spacing:1.6px;color:#1e1e1e;padding-left:1.6px">FTL</div><div class="abs" style="left:141px;top:0;width:86px;height:24.47px;background:rgba(52,168,100,0.14)"></div><div class="c" style="left:141px;width:86px;text-align:center;height:24.47px;line-height:25.869999999999997px;font-size:10px;font-weight:bold;color:#1d8053;letter-spacing:0.05px">COMPLETED</div><div class="c" style="left:237.75px;height:24.47px;line-height:25.869999999999997px">ANDY BROWN</div><div class="c" style="left:364.5px;height:24.47px;line-height:25.869999999999997px">9</div><div class="c" style="right:985px;height:24.47px;line-height:25.869999999999997px">841.92</div><div class="c" style="right:913.4px;height:24.47px;line-height:25.869999999999997px">43.12</div><div class="c" style="right:842px;height:24.47px;line-height:25.869999999999997px">798.79</div><div class="abs" style="left:689px;top:10.035px;width:73.4px;height:6px;border-radius:3px;background:#a9bfef;overflow:hidden"><div style="width:100.0%;height:6px;background:#2453d6;border-radius:3px"></div></div><svg class="abs" style="left:795px;top:6.034999999999999px" width="14" height="14"><circle cx="7" cy="7" r="7" fill="#1b62a3"/><path d="M3.8 7.2 L6.1 9.4 L10.3 4.9" fill="none" stroke="#fff" stroke-width="1.6" stroke-linecap="round" stroke-linejoin="round"/></svg><div class="c sm" style="right:608px;height:24.47px;line-height:25.869999999999997px;color:#4c9c6e">$2,000.00</div><div class="c sm" style="right:552px;height:24.47px;line-height:25.869999999999997px;color:#4c9c6e">$2.38</div><div class="c sm" style="left:975.75px;height:24.47px;line-height:25.869999999999997px;color:#2a2a2a">FREEHOLD, NJ</div><svg class="abs" style="left:1090.5px;top:10.235px" width="5" height="7"><path d="M1.2 1.5 L3.2 3.6 L1.2 5.7" fill="none" stroke="#8a8a8a" stroke-width="1"/></svg><div class="c sm" style="right:297.5px;height:24.47px;line-height:25.869999999999997px;color:#2a2a2a">ATHENS, GA</div><div class="c sm" style="left:1230px;height:24.47px;line-height:25.869999999999997px;color:#2a2a2a">08/19/2025</div><svg class="abs" style="left:1284.3px;top:9.235px" width="5" height="7"><path d="M1.2 1.6 L3.2 3.6 L1.2 5.6" fill="none" stroke="#808080" stroke-width="1.2"/></svg><div class="c sm" style="left:1293px;height:24.47px;line-height:25.869999999999997px;color:#2a2a2a">08/20/2025</div><div class="c sm" style="left:1324px;width:200px;text-align:center;height:24.47px;line-height:25.869999999999997px;color:#2a2a2a">TOTAL PACKAGE EXPRESS</div></div><div class="abs" style="left:0;top:146.88px;width:1507px;height:24.47px;background:#ffffff"><div class="abs" style="left:0.5px;top:0;width:1.6px;height:24.47px;background:#b6d5c4"></div><div class="c" style="left:13px;height:24.47px;line-height:25.869999999999997px">30009</div><div class="abs" style="left:92px;top:2.2349999999999994px;width:35px;height:20px;border-radius:10px;background:#f4f4f5;border:1px solid #e7e7e9"></div><div class="c" style="left:92px;width:35px;text-align:center;height:24.47px;line-height:27.47px;font-size:9.3px;font-weight:bold;letter-spacing:1.6px;color:#1e1e1e;padding-left:1.6px">FTL</div><div class="abs" style="left:141px;top:0;width:86px;height:24.47px;background:rgba(52,168,100,0.14)"></div><div class="c" style="left:141px;width:86px;text-align:center;height:24.47px;line-height:25.869999999999997px;font-size:10px;font-weight:bold;color:#1d8053;letter-spacing:0.05px">COMPLETED</div><div class="c" style="left:237.75px;height:24.47px;line-height:25.869999999999997px">ANDY BROWN</div><div class="c" style="left:364.5px;height:24.47px;line-height:25.869999999999997px">9</div><div class="c" style="right:985px;height:24.47px;line-height:25.869999999999997px">808.2</div><div class="c" style="right:913.4px;height:24.47px;line-height:25.869999999999997px">21</div><div class="c" style="right:842px;height:24.47px;line-height:25.869999999999997px">787.2</div><div class="abs" style="left:689px;top:10.035px;width:73.4px;height:6px;border-radius:3px;background:#a9bfef;overflow:hidden"><div style="width:100.0%;height:6px;background:#2453d6;border-radius:3px"></div></div><svg class="abs" style="left:795px;top:6.034999999999999px" width="14" height="14"><circle cx="7" cy="7" r="7" fill="#1b62a3"/><path d="M3.8 7.2 L6.1 9.4 L10.3 4.9" fill="none" stroke="#fff" stroke-width="1.6" stroke-linecap="round" stroke-linejoin="round"/></svg><div class="c sm" style="right:608px;height:24.47px;line-height:25.869999999999997px;color:#4c9c6e">$3,100.00</div><div class="c sm" style="right:552px;height:24.47px;line-height:25.869999999999997px;color:#4c9c6e">$3.84</div><div class="c sm" style="left:975.75px;height:24.47px;line-height:25.869999999999997px;color:#2a2a2a">CHICAGO, IL</div><svg class="abs" style="left:1090.5px;top:10.235px" width="5" height="7"><path d="M1.2 1.5 L3.2 3.6 L1.2 5.7" fill="none" stroke="#8a8a8a" stroke-width="1"/></svg><div class="c sm" style="right:297.5px;height:24.47px;line-height:25.869999999999997px;color:#2a2a2a">NEWARK, NJ</div><div class="c sm" style="left:1230px;height:24.47px;line-height:25.869999999999997px;color:#2a2a2a">08/18/2025</div><svg class="abs" style="left:1284.3px;top:9.235px" width="5" height="7"><path d="M1.2 1.6 L3.2 3.6 L1.2 5.6" fill="none" stroke="#808080" stroke-width="1.2"/></svg><div class="c sm" style="left:1293px;height:24.47px;line-height:25.869999999999997px;color:#2a2a2a">08/19/2025</div><div class="c sm" style="left:1357.5px;height:24.47px;line-height:25.869999999999997px;color:#2a2a2a">PREFERRED DEVELOPM…</div></div><div class="abs" style="left:0;top:171.35px;width:1507px;height:24.47px;background:#f5f6f8"><div class="abs" style="left:0.5px;top:0;width:1.6px;height:24.47px;background:#f1a7a9"></div><div class="c" style="left:13px;height:24.47px;line-height:25.869999999999997px">30008</div><div class="abs" style="left:92px;top:2.2349999999999994px;width:35px;height:20px;border-radius:10px;background:#f4f4f5;border:1px solid #e7e7e9"></div><div class="c" style="left:92px;width:35px;text-align:center;height:24.47px;line-height:27.47px;font-size:9.3px;font-weight:bold;letter-spacing:1.6px;color:#1e1e1e;padding-left:1.6px">FTL</div><div class="abs" style="left:141px;top:0;width:86px;height:24.47px;background:rgba(235,80,90,0.12)"></div><div class="c" style="left:141px;width:86px;text-align:center;height:24.47px;line-height:25.869999999999997px;font-size:10px;font-weight:bold;color:#d8363f;letter-spacing:0.05px">OPEN</div><div class="c" style="left:237.75px;height:24.47px;line-height:25.869999999999997px">Unassigned</div><div class="c" style="left:364.5px;height:24.47px;line-height:25.869999999999997px">Unassigned</div><div class="c" style="right:985px;height:24.47px;line-height:25.869999999999997px">1,438.26</div><div class="c" style="right:913.4px;height:24.47px;line-height:25.869999999999997px">—</div><div class="c" style="right:842px;height:24.47px;line-height:25.869999999999997px">1,438.26</div><div class="abs" style="left:689px;top:10.035px;width:73.4px;height:6px;border-radius:3px;background:#a9bfef;overflow:hidden"></div><svg class="abs" style="left:795px;top:6.034999999999999px" width="14" height="14"><circle cx="7" cy="7" r="6.1" fill="none" stroke="#e0565c" stroke-width="1.3"/><path d="M4.6 4.6 L9.4 9.4 M9.4 4.6 L4.6 9.4" stroke="#e0565c" stroke-width="1.3" stroke-linecap="round"/></svg><div class="c sm" style="right:608px;height:24.47px;line-height:25.869999999999997px;color:#d9505a">$2,150.00</div><div class="c sm" style="right:552px;height:24.47px;line-height:25.869999999999997px;color:#d9505a">$1.49</div><div class="c sm" style="left:975.75px;height:24.47px;line-height:25.869999999999997px;color:#2a2a2a">BURLINGTON, IA</div><svg class="abs" style="left:1090.5px;top:10.235px" width="5" height="7"><path d="M1.2 1.5 L3.2 3.6 L1.2 5.7" fill="none" stroke="#8a8a8a" stroke-width="1"/></svg><div class="c sm" style="right:300.5px;height:24.47px;line-height:25.869999999999997px;color:#2a2a2a">HIALEAH GARDENS…</div><div class="c sm" style="left:1230px;height:24.47px;line-height:25.869999999999997px;color:#2a2a2a">08/04/2025</div><svg class="abs" style="left:1284.3px;top:9.235px" width="5" height="7"><path d="M1.2 1.6 L3.2 3.6 L1.2 5.6" fill="none" stroke="#808080" stroke-width="1.2"/></svg><div class="c sm" style="left:1293px;height:24.47px;line-height:25.869999999999997px;color:#2a2a2a">08/05/2025</div><div class="c sm" style="left:1324px;width:200px;text-align:center;height:24.47px;line-height:25.869999999999997px;color:#2a2a2a">PAX LOGISTICS LLC</div></div><div class="abs" style="left:0;top:195.82px;width:1507px;height:24.47px;background:#ffffff"><div class="abs" style="left:0.5px;top:0;width:1.6px;height:24.47px;background:#f1a7a9"></div><div class="c" style="left:13px;height:24.47px;line-height:25.869999999999997px">30007</div><div class="abs" style="left:92px;top:2.2349999999999994px;width:35px;height:20px;border-radius:10px;background:#f4f4f5;border:1px solid #e7e7e9"></div><div class="c" style="left:92px;width:35px;text-align:center;height:24.47px;line-height:27.47px;font-size:9.3px;font-weight:bold;letter-spacing:1.6px;color:#1e1e1e;padding-left:1.6px">FTL</div><div class="abs" style="left:141px;top:0;width:86px;height:24.47px;background:rgba(235,80,90,0.12)"></div><div class="c" style="left:141px;width:86px;text-align:center;height:24.47px;line-height:25.869999999999997px;font-size:10px;font-weight:bold;color:#d8363f;letter-spacing:0.05px">OPEN</div><div class="c" style="left:237.75px;height:24.47px;line-height:25.869999999999997px">MIHAI TEST DRI…</div><div class="c" style="left:364.5px;height:24.47px;line-height:25.869999999999997px">Dima T888</div><div class="c" style="right:985px;height:24.47px;line-height:25.869999999999997px">1,692.76</div><div class="c" style="right:913.4px;height:24.47px;line-height:25.869999999999997px">892.94</div><div class="c" style="right:842px;height:24.47px;line-height:25.869999999999997px">799.81</div><div class="abs" style="left:689px;top:10.035px;width:73.4px;height:6px;border-radius:3px;background:#a9bfef;overflow:hidden"></div><svg class="abs" style="left:795px;top:6.034999999999999px" width="14" height="14"><circle cx="7" cy="7" r="6.1" fill="none" stroke="#e0565c" stroke-width="1.3"/><path d="M4.6 4.6 L9.4 9.4 M9.4 4.6 L4.6 9.4" stroke="#e0565c" stroke-width="1.3" stroke-linecap="round"/></svg><div class="c sm" style="right:608px;height:24.47px;line-height:25.869999999999997px;color:#5f5f5f">$2,600.00</div><div class="c sm" style="right:552px;height:24.47px;line-height:25.869999999999997px;color:#5f5f5f">$1.54</div><div class="c sm" style="left:975.75px;height:24.47px;line-height:25.869999999999997px;color:#2a2a2a">MILTON, FL</div><svg class="abs" style="left:1090.5px;top:10.235px" width="5" height="7"><path d="M1.2 1.5 L3.2 3.6 L1.2 5.7" fill="none" stroke="#8a8a8a" stroke-width="1"/></svg><div class="c sm" style="right:297.5px;height:24.47px;line-height:25.869999999999997px;color:#2a2a2a">REMINGTON, IN</div><div class="c sm" style="left:1230px;height:24.47px;line-height:25.869999999999997px;color:#2a2a2a">06/27/2025</div><svg class="abs" style="left:1284.3px;top:9.235px" width="5" height="7"><path d="M1.2 1.6 L3.2 3.6 L1.2 5.6" fill="none" stroke="#808080" stroke-width="1.2"/></svg><div class="c sm" style="left:1293px;height:24.47px;line-height:25.869999999999997px;color:#2a2a2a">06/30/2025</div><div class="c sm" style="left:1324px;width:200px;text-align:center;height:24.47px;line-height:25.869999999999997px;color:#2a2a2a">MELTON LOGISTICS</div></div><div class="abs" style="left:0;top:220.29px;width:1507px;height:24.47px;background:#f5f6f8"><div class="abs" style="left:0.5px;top:0;width:1.6px;height:24.47px;background:#b6d5c4"></div><div class="c" style="left:13px;height:24.47px;line-height:25.869999999999997px">30006</div><div class="abs" style="left:92px;top:2.2349999999999994px;width:35px;height:20px;border-radius:10px;background:#f4f4f5;border:1px solid #e7e7e9"></div><div class="c" style="left:92px;width:35px;text-align:center;height:24.47px;line-height:27.47px;font-size:9.3px;font-weight:bold;letter-spacing:1.6px;color:#1e1e1e;padding-left:1.6px">FTL</div><div class="abs" style="left:141px;top:0;width:86px;height:24.47px;background:rgba(52,168,100,0.14)"></div><div class="c" style="left:141px;width:86px;text-align:center;height:24.47px;line-height:25.869999999999997px;font-size:10px;font-weight:bold;color:#1d8053;letter-spacing:0.05px">COMPLETED</div><div class="c" style="left:237.75px;height:24.47px;line-height:25.869999999999997px">Test Driver</div><div class="c" style="left:364.5px;height:24.47px;line-height:25.869999999999997px">T680</div><div class="c" style="right:985px;height:24.47px;line-height:25.869999999999997px">2,153.09</div><div class="c" style="right:913.4px;height:24.47px;line-height:25.869999999999997px">1,099.02</div><div class="c" style="right:842px;height:24.47px;line-height:25.869999999999997px">1,054.06</div><div class="abs" style="left:689px;top:10.035px;width:73.4px;height:6px;border-radius:3px;background:#a9bfef;overflow:hidden"><div style="width:100.0%;height:6px;background:#2453d6;border-radius:3px"></div></div><svg class="abs" style="left:795px;top:6.034999999999999px" width="14" height="14"><circle cx="7" cy="7" r="7" fill="#1b62a3"/><path d="M3.8 7.2 L6.1 9.4 L10.3 4.9" fill="none" stroke="#fff" stroke-width="1.6" stroke-linecap="round" stroke-linejoin="round"/></svg><div class="c sm" style="right:608px;height:24.47px;line-height:25.869999999999997px;color:#5f5f5f">$2,400.00</div><div class="c sm" style="right:552px;height:24.47px;line-height:25.869999999999997px;color:#5f5f5f">$1.11</div><div class="c sm" style="left:975.75px;height:24.47px;line-height:25.869999999999997px;color:#2a2a2a">LANCASTER, PA</div><svg class="abs" style="left:1090.5px;top:10.235px" width="5" height="7"><path d="M1.2 1.5 L3.2 3.6 L1.2 5.7" fill="none" stroke="#8a8a8a" stroke-width="1"/></svg><div class="c sm" style="right:297.5px;height:24.47px;line-height:25.869999999999997px;color:#2a2a2a">CLEARWATER, FL</div><div class="c sm" style="left:1230px;height:24.47px;line-height:25.869999999999997px;color:#2a2a2a">06/27/2025</div><svg class="abs" style="left:1284.3px;top:9.235px" width="5" height="7"><path d="M1.2 1.6 L3.2 3.6 L1.2 5.6" fill="none" stroke="#808080" stroke-width="1.2"/></svg><div class="c sm" style="left:1293px;height:24.47px;line-height:25.869999999999997px;color:#2a2a2a">06/30/2025</div><div class="c sm" style="left:1324px;width:200px;text-align:center;height:24.47px;line-height:25.869999999999997px;color:#2a2a2a">WILCOX ENTERPRISES INC</div></div><div class="abs" style="left:0;top:244.76px;width:1507px;height:24.47px;background:#ffffff"><div class="abs" style="left:0.5px;top:0;width:1.6px;height:24.47px;background:#b6d5c4"></div><div class="c" style="left:13px;height:24.47px;line-height:25.869999999999997px">30005</div><div class="abs" style="left:92px;top:2.2349999999999994px;width:35px;height:20px;border-radius:10px;background:#f4f4f5;border:1px solid #e7e7e9"></div><div class="c" style="left:92px;width:35px;text-align:center;height:24.47px;line-height:27.47px;font-size:9.3px;font-weight:bold;letter-spacing:1.6px;color:#1e1e1e;padding-left:1.6px">FTL</div><div class="abs" style="left:141px;top:0;width:86px;height:24.47px;background:rgba(52,168,100,0.14)"></div><div class="c" style="left:141px;width:86px;text-align:center;height:24.47px;line-height:25.869999999999997px;font-size:10px;font-weight:bold;color:#1d8053;letter-spacing:0.05px">COMPLETED</div><div class="c" style="left:237.75px;height:24.47px;line-height:25.869999999999997px">Test Driver</div><div class="c" style="left:364.5px;height:24.47px;line-height:25.869999999999997px">Tulubeiv 874</div><div class="c" style="right:985px;height:24.47px;line-height:25.869999999999997px">548.06</div><div class="c" style="right:913.4px;height:24.47px;line-height:25.869999999999997px">—</div><div class="c" style="right:842px;height:24.47px;line-height:25.869999999999997px">548.06</div><div class="abs" style="left:689px;top:10.035px;width:73.4px;height:6px;border-radius:3px;background:#a9bfef;overflow:hidden"><div style="width:100.0%;height:6px;background:#2453d6;border-radius:3px"></div></div><svg class="abs" style="left:795px;top:6.034999999999999px" width="14" height="14"><circle cx="7" cy="7" r="7" fill="#1b62a3"/><path d="M3.8 7.2 L6.1 9.4 L10.3 4.9" fill="none" stroke="#fff" stroke-width="1.6" stroke-linecap="round" stroke-linejoin="round"/></svg><div class="c sm" style="right:608px;height:24.47px;line-height:25.869999999999997px;color:#5f5f5f">$1,100.00</div><div class="c sm" style="right:552px;height:24.47px;line-height:25.869999999999997px;color:#5f5f5f">$2.01</div><div class="c sm" style="left:975.75px;height:24.47px;line-height:25.869999999999997px;color:#2a2a2a">JOSHUA, TX</div><svg class="abs" style="left:1090.5px;top:10.235px" width="5" height="7"><path d="M1.2 1.5 L3.2 3.6 L1.2 5.7" fill="none" stroke="#8a8a8a" stroke-width="1"/></svg><div class="c sm" style="right:297.5px;height:24.47px;line-height:25.869999999999997px;color:#2a2a2a">FOXWORTH, MS</div><div class="c sm" style="left:1230px;height:24.47px;line-height:25.869999999999997px;color:#2a2a2a">06/13/2025</div><svg class="abs" style="left:1284.3px;top:9.235px" width="5" height="7"><path d="M1.2 1.6 L3.2 3.6 L1.2 5.6" fill="none" stroke="#808080" stroke-width="1.2"/></svg><div class="c sm" style="left:1293px;height:24.47px;line-height:25.869999999999997px;color:#2a2a2a">06/16/2025</div><div class="c sm" style="left:1324px;width:200px;text-align:center;height:24.47px;line-height:25.869999999999997px;color:#2a2a2a">ECOGISTICS</div></div><div class="abs" style="left:0;top:269.23px;width:1507px;height:24.47px;background:#f5f6f8"><div class="abs" style="left:0.5px;top:0;width:1.6px;height:24.47px;background:#a9b8ee"></div><div class="c" style="left:13px;height:24.47px;line-height:25.869999999999997px">30004</div><div class="abs" style="left:92px;top:2.2349999999999994px;width:35px;height:20px;border-radius:10px;background:#f4f4f5;border:1px solid #e7e7e9"></div><div class="c" style="left:92px;width:35px;text-align:center;height:24.47px;line-height:27.47px;font-size:9.3px;font-weight:bold;letter-spacing:1.6px;color:#1e1e1e;padding-left:1.6px">FTL</div><div class="abs" style="left:141px;top:0;width:86px;height:24.47px;background:rgba(70,110,230,0.17)"></div><div class="c" style="left:141px;width:86px;text-align:center;height:24.47px;line-height:25.869999999999997px;font-size:10px;font-weight:bold;color:#2e4fc0;letter-spacing:0.05px">DELIVERED</div><div class="c" style="left:237.75px;height:24.47px;line-height:25.869999999999997px">DORIN ENE</div><div class="c" style="left:364.5px;height:24.47px;line-height:25.869999999999997px">T680</div><div class="c" style="right:985px;height:24.47px;line-height:25.869999999999997px">674.32</div><div class="c" style="right:913.4px;height:24.47px;line-height:25.869999999999997px">126.26</div><div class="c" style="right:842px;height:24.47px;line-height:25.869999999999997px">548.06</div><div class="abs" style="left:689px;top:10.035px;width:73.4px;height:6px;border-radius:3px;background:#a9bfef;overflow:hidden"><div style="width:100.0%;height:6px;background:#2453d6;border-radius:3px"></div></div><svg class="abs" style="left:795px;top:6.034999999999999px" width="14" height="14"><circle cx="7" cy="7" r="7" fill="#1b62a3"/><path d="M3.8 7.2 L6.1 9.4 L10.3 4.9" fill="none" stroke="#fff" stroke-width="1.6" stroke-linecap="round" stroke-linejoin="round"/></svg><div class="c sm" style="right:608px;height:24.47px;line-height:25.869999999999997px;color:#d9505a">$1,100.00</div><div class="c sm" style="right:552px;height:24.47px;line-height:25.869999999999997px;color:#d9505a">$1.63</div><div class="c sm" style="left:975.75px;height:24.47px;line-height:25.869999999999997px;color:#2a2a2a">JOSHUA, TX</div><svg class="abs" style="left:1090.5px;top:10.235px" width="5" height="7"><path d="M1.2 1.5 L3.2 3.6 L1.2 5.7" fill="none" stroke="#8a8a8a" stroke-width="1"/></svg><div class="c sm" style="right:297.5px;height:24.47px;line-height:25.869999999999997px;color:#2a2a2a">FOXWORTH, MS</div><div class="c sm" style="left:1230px;height:24.47px;line-height:25.869999999999997px;color:#2a2a2a">06/13/2025</div><svg class="abs" style="left:1284.3px;top:9.235px" width="5" height="7"><path d="M1.2 1.6 L3.2 3.6 L1.2 5.6" fill="none" stroke="#808080" stroke-width="1.2"/></svg><div class="c sm" style="left:1293px;height:24.47px;line-height:25.869999999999997px;color:#2a2a2a">06/16/2025</div><div class="c sm" style="left:1324px;width:200px;text-align:center;height:24.47px;line-height:25.869999999999997px;color:#2a2a2a">ECOGISTICS</div></div><div class="abs" style="left:0;top:293.7px;width:1507px;height:24.47px;background:#ffffff"><div class="abs" style="left:0.5px;top:0;width:1.6px;height:24.47px;background:#f1a7a9"></div><div class="c" style="left:13px;height:24.47px;line-height:25.869999999999997px">30003</div><div class="abs" style="left:92px;top:2.2349999999999994px;width:35px;height:20px;border-radius:10px;background:#f4f4f5;border:1px solid #e7e7e9"></div><div class="c" style="left:92px;width:35px;text-align:center;height:24.47px;line-height:27.47px;font-size:9.3px;font-weight:bold;letter-spacing:1.6px;color:#1e1e1e;padding-left:1.6px">FTL</div><div class="abs" style="left:141px;top:0;width:86px;height:24.47px;background:rgba(235,80,90,0.12)"></div><div class="c" style="left:141px;width:86px;text-align:center;height:24.47px;line-height:25.869999999999997px;font-size:10px;font-weight:bold;color:#d8363f;letter-spacing:0.05px">OPEN</div><div class="c" style="left:237.75px;height:24.47px;line-height:25.869999999999997px">Test Driver</div><div class="c" style="left:364.5px;height:24.47px;line-height:25.869999999999997px">T680</div><div class="c" style="right:985px;height:24.47px;line-height:25.869999999999997px">1,858.75</div><div class="c" style="right:913.4px;height:24.47px;line-height:25.869999999999997px">1,008.23</div><div class="c" style="right:842px;height:24.47px;line-height:25.869999999999997px">850.52</div><div class="abs" style="left:689px;top:10.035px;width:73.4px;height:6px;border-radius:3px;background:#a9bfef;overflow:hidden"></div><svg class="abs" style="left:795px;top:6.034999999999999px" width="14" height="14"><circle cx="7" cy="7" r="7" fill="#1b62a3"/><path d="M3.8 7.2 L6.1 9.4 L10.3 4.9" fill="none" stroke="#fff" stroke-width="1.6" stroke-linecap="round" stroke-linejoin="round"/></svg><div class="c sm" style="right:608px;height:24.47px;line-height:25.869999999999997px;color:#5f5f5f">$2,100.00</div><div class="c sm" style="right:552px;height:24.47px;line-height:25.869999999999997px;color:#5f5f5f">$1.13</div><div class="c sm" style="left:975.75px;height:24.47px;line-height:25.869999999999997px;color:#2a2a2a">ROCKFORD, IL</div><svg class="abs" style="left:1090.5px;top:10.235px" width="5" height="7"><path d="M1.2 1.5 L3.2 3.6 L1.2 5.7" fill="none" stroke="#8a8a8a" stroke-width="1"/></svg><div class="c sm" style="right:297.5px;height:24.47px;line-height:25.869999999999997px;color:#2a2a2a">DENISON, TX</div><div class="c sm" style="left:1230px;height:24.47px;line-height:25.869999999999997px;color:#2a2a2a">05/14/2025</div><svg class="abs" style="left:1284.3px;top:9.235px" width="5" height="7"><path d="M1.2 1.6 L3.2 3.6 L1.2 5.6" fill="none" stroke="#808080" stroke-width="1.2"/></svg><div class="c sm" style="left:1293px;height:24.47px;line-height:25.869999999999997px;color:#2a2a2a">05/16/2025</div><div class="c sm" style="left:1324px;width:200px;text-align:center;height:24.47px;line-height:25.869999999999997px;color:#2a2a2a">WORLDWIDE LOGISTICS</div></div><div class="abs" style="left:0;top:318.17px;width:1507px;height:24.47px;background:#f5f6f8"><div class="abs" style="left:0.5px;top:0;width:1.6px;height:24.47px;background:#c9d2e6"></div><div class="c" style="left:13px;height:24.47px;line-height:25.869999999999997px">30002</div><div class="abs" style="left:92px;top:2.2349999999999994px;width:35px;height:20px;border-radius:10px;background:#f4f4f5;border:1px solid #e7e7e9"></div><div class="c" style="left:92px;width:35px;text-align:center;height:24.47px;line-height:27.47px;font-size:9.3px;font-weight:bold;letter-spacing:1.6px;color:#1e1e1e;padding-left:1.6px">FTL</div><div class="abs" style="left:141px;top:0;width:86px;height:24.47px;background:rgba(245,170,60,0.11)"></div><div class="c" style="left:141px;width:86px;text-align:center;height:24.47px;line-height:25.869999999999997px;font-size:10px;font-weight:bold;color:#cf7f1e;letter-spacing:0.05px">IN TRANSIT</div><div class="c" style="left:237.75px;height:24.47px;line-height:25.869999999999997px">Test Driver</div><div class="c" style="left:364.5px;height:24.47px;line-height:25.869999999999997px">T680</div><div class="c" style="right:985px;height:24.47px;line-height:25.869999999999997px">3,508.34</div><div class="c" style="right:913.4px;height:24.47px;line-height:25.869999999999997px">2,770.4</div><div class="c" style="right:842px;height:24.47px;line-height:25.869999999999997px">737.94</div><div class="abs" style="left:689px;top:10.035px;width:73.4px;height:6px;border-radius:3px;background:#a9bfef;overflow:hidden"><div style="width:21.0%;height:6px;background:#2453d6;border-radius:3px"></div></div><svg class="abs" style="left:795px;top:6.034999999999999px" width="14" height="14"><circle cx="7" cy="7" r="7" fill="#1b62a3"/><path d="M3.8 7.2 L6.1 9.4 L10.3 4.9" fill="none" stroke="#fff" stroke-width="1.6" stroke-linecap="round" stroke-linejoin="round"/></svg><div class="c sm" style="right:608px;height:24.47px;line-height:25.869999999999997px;color:#5f5f5f">$2,200.00</div><div class="c sm" style="right:552px;height:24.47px;line-height:25.869999999999997px;color:#5f5f5f">$0.63</div><div class="c sm" style="left:975.75px;height:24.47px;line-height:25.869999999999997px;color:#2a2a2a">MIAMI, FL</div><svg class="abs" style="left:1090.5px;top:10.235px" width="5" height="7"><path d="M1.2 1.5 L3.2 3.6 L1.2 5.7" fill="none" stroke="#8a8a8a" stroke-width="1"/></svg><div class="c sm" style="right:300.5px;height:24.47px;line-height:25.869999999999997px;color:#2a2a2a">NORTH MYRTLE BE…</div><div class="c sm" style="left:1230px;height:24.47px;line-height:25.869999999999997px;color:#2a2a2a">04/04/2025</div><svg class="abs" style="left:1284.3px;top:9.235px" width="5" height="7"><path d="M1.2 1.6 L3.2 3.6 L1.2 5.6" fill="none" stroke="#808080" stroke-width="1.2"/></svg><div class="c sm" style="left:1293px;height:24.47px;line-height:25.869999999999997px;color:#2a2a2a">04/06/2025</div><div class="c sm" style="left:1357.5px;height:24.47px;line-height:25.869999999999997px;color:#2a2a2a">JOHN J. JERUE TRUCK B…</div></div><div class="abs" style="left:0;top:342.64px;width:1507px;height:24.47px;background:#ffffff"><div class="abs" style="left:0.5px;top:0;width:1.6px;height:24.47px;background:#b6d5c4"></div><div class="c" style="left:13px;height:24.47px;line-height:25.869999999999997px">30000</div><div class="abs" style="left:92px;top:2.2349999999999994px;width:35px;height:20px;border-radius:10px;background:#f4f4f5;border:1px solid #e7e7e9"></div><div class="c" style="left:92px;width:35px;text-align:center;height:24.47px;line-height:27.47px;font-size:9.3px;font-weight:bold;letter-spacing:1.6px;color:#1e1e1e;padding-left:1.6px">FTL</div><div class="abs" style="left:141px;top:0;width:86px;height:24.47px;background:rgba(52,168,100,0.14)"></div><div class="c" style="left:141px;width:86px;text-align:center;height:24.47px;line-height:25.869999999999997px;font-size:10px;font-weight:bold;color:#1d8053;letter-spacing:0.05px">COMPLETED</div><div class="c" style="left:237.75px;height:24.47px;line-height:25.869999999999997px">MIHAI TEST DRI…</div><div class="c" style="left:364.5px;height:24.47px;line-height:25.869999999999997px">Dima T888</div><div class="c" style="right:985px;height:24.47px;line-height:25.869999999999997px">591.18</div><div class="c" style="right:913.4px;height:24.47px;line-height:25.869999999999997px">—</div><div class="c" style="right:842px;height:24.47px;line-height:25.869999999999997px">591.18</div><div class="abs" style="left:689px;top:10.035px;width:73.4px;height:6px;border-radius:3px;background:#a9bfef;overflow:hidden"><div style="width:100.0%;height:6px;background:#2453d6;border-radius:3px"></div></div><svg class="abs" style="left:795px;top:6.034999999999999px" width="14" height="14"><circle cx="7" cy="7" r="7" fill="#1b62a3"/><path d="M3.8 7.2 L6.1 9.4 L10.3 4.9" fill="none" stroke="#fff" stroke-width="1.6" stroke-linecap="round" stroke-linejoin="round"/></svg><div class="c sm" style="right:608px;height:24.47px;line-height:25.869999999999997px;color:#5f5f5f">$1,450.00</div><div class="c sm" style="right:552px;height:24.47px;line-height:25.869999999999997px;color:#5f5f5f">$2.45</div><div class="c sm" style="left:975.75px;height:24.47px;line-height:25.869999999999997px;color:#2a2a2a">WARRENSBURG, NY</div><svg class="abs" style="left:1090.5px;top:10.235px" width="5" height="7"><path d="M1.2 1.5 L3.2 3.6 L1.2 5.7" fill="none" stroke="#8a8a8a" stroke-width="1"/></svg><div class="c sm" style="right:297.5px;height:24.47px;line-height:25.869999999999997px;color:#2a2a2a">LOUDONVILLE, OH</div><div class="c sm" style="left:1230px;height:24.47px;line-height:25.869999999999997px;color:#2a2a2a">03/19/2025</div><svg class="abs" style="left:1284.3px;top:9.235px" width="5" height="7"><path d="M1.2 1.6 L3.2 3.6 L1.2 5.6" fill="none" stroke="#808080" stroke-width="1.2"/></svg><div class="c sm" style="left:1293px;height:24.47px;line-height:25.869999999999997px;color:#2a2a2a">03/20/2025</div><div class="c sm" style="left:1324px;width:200px;text-align:center;height:24.47px;line-height:25.869999999999997px;color:#2a2a2a">E W WYLIE LLC</div></div><div class="abs" style="left:0;top:367.11px;width:1507px;height:2px;background:#9fb1da"></div><div class="abs" style="left:0;top:369.11px;width:1507px;height:22.5px;background:#f5f6f8"><div class="c" style="left:15.5px;height:22.5px;line-height:25.5px">25</div><div class="abs" style="left:79px;top:2.0px;width:61px;height:18.5px;border-radius:9px;background:#e5eafb;border:1px solid #c6d1f3"></div><svg class="abs" style="left:84.5px;top:8.05px" width="11" height="8"><g fill="none" stroke="#5a78c8" stroke-width="1.1"><path d="M4.6 2 H3 a2 2 0 0 0 0 4 H4.6 M6 2 H7.6 a2 2 0 0 1 0 4 H6 M3.4 4 H7.2"/></g></svg><div class="c" style="left:99px;height:22.5px;line-height:25.5px;font-size:9.3px;font-weight:bold;letter-spacing:1.1px;color:#3a58b8">LTL</div><div class="c" style="left:121px;height:22.5px;line-height:25.5px;font-size:9.6px;letter-spacing:0.5px;color:#5a73c4">1/2</div><div class="abs" style="left:141px;top:0;width:86px;height:22.5px;background:rgba(70,110,230,0.17)"></div><div class="c" style="left:141px;width:86px;text-align:center;height:22.5px;line-height:25.5px;font-size:10px;font-weight:bold;color:#2e4fc0;letter-spacing:0.05px">DELIVERED</div><div class="c" style="left:237.75px;height:22.5px;line-height:25.5px">Test Driver</div><div class="c" style="left:364.5px;height:22.5px;line-height:25.5px">T680</div><div class="c" style="right:985px;height:22.5px;line-height:25.5px">1</div><div class="c" style="right:913.4px;height:22.5px;line-height:25.5px">—</div><div class="c" style="right:842px;height:22.5px;line-height:25.5px">1</div><div class="abs" style="left:689px;top:9.05px;width:73.4px;height:6px;border-radius:3px;background:#a9bfef;overflow:hidden"><div style="width:100.0%;height:6px;background:#2453d6;border-radius:3px"></div></div><svg class="abs" style="left:795px;top:5.05px" width="14" height="14"><circle cx="7" cy="7" r="7" fill="#1b62a3"/><path d="M3.8 7.2 L6.1 9.4 L10.3 4.9" fill="none" stroke="#fff" stroke-width="1.6" stroke-linecap="round" stroke-linejoin="round"/></svg><div class="c sm" style="right:608px;height:22.5px;line-height:25.5px;color:#5f5f5f">$1,000.00</div><div class="c sm" style="right:552px;height:22.5px;line-height:25.5px;color:#5f5f5f">$0.51</div><div class="c sm" style="left:975.75px;height:22.5px;line-height:25.5px;color:#2a2a2a">WARRENSBURG, NY</div><svg class="abs" style="left:1090.5px;top:9.25px" width="5" height="7"><path d="M1.2 1.5 L3.2 3.6 L1.2 5.7" fill="none" stroke="#8a8a8a" stroke-width="1"/></svg><div class="c sm" style="right:300.5px;height:22.5px;line-height:25.5px;color:#2a2a2a">RANCHO DOMINGU…</div><div class="c sm" style="left:1230px;height:22.5px;line-height:25.5px;color:#2a2a2a">03/19/2025</div><svg class="abs" style="left:1284.3px;top:8.25px" width="5" height="7"><path d="M1.2 1.6 L3.2 3.6 L1.2 5.6" fill="none" stroke="#808080" stroke-width="1.2"/></svg><div class="c sm" style="left:1293px;height:22.5px;line-height:25.5px;color:#2a2a2a">04/03/2025</div><div class="c sm" style="left:1324px;width:200px;text-align:center;height:22.5px;line-height:25.5px;color:#2a2a2a">ADJ FREIGHT LLC</div></div><div class="abs" style="left:0;top:391.61px;width:1507px;height:22.5px;background:#ffffff"><div class="c" style="left:15.5px;height:22.5px;line-height:25.5px">24</div><div class="abs" style="left:79px;top:2.0px;width:61px;height:18.5px;border-radius:9px;background:#e5eafb;border:1px solid #c6d1f3"></div><svg class="abs" style="left:84.5px;top:8.05px" width="11" height="8"><g fill="none" stroke="#5a78c8" stroke-width="1.1"><path d="M4.6 2 H3 a2 2 0 0 0 0 4 H4.6 M6 2 H7.6 a2 2 0 0 1 0 4 H6 M3.4 4 H7.2"/></g></svg><div class="c" style="left:99px;height:22.5px;line-height:25.5px;font-size:9.3px;font-weight:bold;letter-spacing:1.1px;color:#3a58b8">LTL</div><div class="c" style="left:121px;height:22.5px;line-height:25.5px;font-size:9.6px;letter-spacing:0.5px;color:#5a73c4">2/2</div><div class="abs" style="left:141px;top:0;width:86px;height:22.5px;background:rgba(245,170,60,0.11)"></div><div class="c" style="left:141px;width:86px;text-align:center;height:22.5px;line-height:25.5px;font-size:10px;font-weight:bold;color:#cf7f1e;letter-spacing:0.05px">IN TRANSIT</div><div class="c" style="left:237.75px;height:22.5px;line-height:25.5px">Test Driver</div><div class="c" style="left:364.5px;height:22.5px;line-height:25.5px">T680</div><div class="c" style="right:985px;height:22.5px;line-height:25.5px">4,819.34</div><div class="c" style="right:913.4px;height:22.5px;line-height:25.5px">1,878.59</div><div class="c" style="right:842px;height:22.5px;line-height:25.5px">2,940.75</div><div class="abs" style="left:689px;top:9.05px;width:73.4px;height:6px;border-radius:3px;background:#a9bfef;overflow:hidden"></div><svg class="abs" style="left:795px;top:5.05px" width="14" height="14"><circle cx="7" cy="7" r="7" fill="#1b62a3"/><path d="M3.8 7.2 L6.1 9.4 L10.3 4.9" fill="none" stroke="#fff" stroke-width="1.6" stroke-linecap="round" stroke-linejoin="round"/></svg><div class="c sm" style="right:608px;height:22.5px;line-height:25.5px;color:#5f5f5f">$1,450.00</div><div class="c sm" style="right:552px;height:22.5px;line-height:25.5px;color:#5f5f5f">$0.51</div><div class="c sm" style="left:975.75px;height:22.5px;line-height:25.5px;color:#2a2a2a">WARRENSBURG, NY</div><svg class="abs" style="left:1090.5px;top:9.25px" width="5" height="7"><path d="M1.2 1.5 L3.2 3.6 L1.2 5.7" fill="none" stroke="#8a8a8a" stroke-width="1"/></svg><div class="c sm" style="right:300.5px;height:22.5px;line-height:25.5px;color:#2a2a2a">RANCHO DOMINGU…</div><div class="c sm" style="left:1230px;height:22.5px;line-height:25.5px;color:#2a2a2a">03/19/2025</div><svg class="abs" style="left:1284.3px;top:8.25px" width="5" height="7"><path d="M1.2 1.6 L3.2 3.6 L1.2 5.6" fill="none" stroke="#808080" stroke-width="1.2"/></svg><div class="c sm" style="left:1293px;height:22.5px;line-height:25.5px;color:#2a2a2a">04/03/2025</div><div class="c sm" style="left:1324px;width:200px;text-align:center;height:22.5px;line-height:25.5px;color:#2a2a2a">E W WYLIE LLC</div></div><div class="abs" style="left:0;top:414.11px;width:1507px;height:2px;background:#9fb1da"></div><div class="abs" style="left:0;top:367.11px;width:4.5px;height:49.0px;background:#8ea6ea"></div><div class="abs" style="left:0;top:416.11px;width:1507px;height:24.47px;background:#f5f6f8"><div class="abs" style="left:0.5px;top:0;width:1.6px;height:24.47px;background:#b6d5c4"></div><div class="c" style="left:13px;height:24.47px;line-height:25.869999999999997px">23</div><div class="abs" style="left:92px;top:2.2349999999999994px;width:35px;height:20px;border-radius:10px;background:#f4f4f5;border:1px solid #e7e7e9"></div><div class="c" style="left:92px;width:35px;text-align:center;height:24.47px;line-height:27.47px;font-size:9.3px;font-weight:bold;letter-spacing:1.6px;color:#1e1e1e;padding-left:1.6px">FTL</div><div class="abs" style="left:141px;top:0;width:86px;height:24.47px;background:rgba(52,168,100,0.14)"></div><div class="c" style="left:141px;width:86px;text-align:center;height:24.47px;line-height:25.869999999999997px;font-size:10px;font-weight:bold;color:#1d8053;letter-spacing:0.05px">COMPLETED</div><div class="c" style="left:237.75px;height:24.47px;line-height:25.869999999999997px">Test Driver</div><div class="c" style="left:364.5px;height:24.47px;line-height:25.869999999999997px">Serghei T295</div><div class="c" style="right:985px;height:24.47px;line-height:25.869999999999997px">1,690.26</div><div class="c" style="right:913.4px;height:24.47px;line-height:25.869999999999997px">1,375.42</div><div class="c" style="right:842px;height:24.47px;line-height:25.869999999999997px">314.84</div><div class="abs" style="left:689px;top:10.035px;width:73.4px;height:6px;border-radius:3px;background:#a9bfef;overflow:hidden"><div style="width:100.0%;height:6px;background:#2453d6;border-radius:3px"></div></div><svg class="abs" style="left:795px;top:6.034999999999999px" width="14" height="14"><circle cx="7" cy="7" r="7" fill="#1b62a3"/><path d="M3.8 7.2 L6.1 9.4 L10.3 4.9" fill="none" stroke="#fff" stroke-width="1.6" stroke-linecap="round" stroke-linejoin="round"/></svg><div class="c sm" style="right:608px;height:24.47px;line-height:25.869999999999997px;color:#5f5f5f">$600.00</div><div class="c sm" style="right:552px;height:24.47px;line-height:25.869999999999997px;color:#5f5f5f">$0.35</div><div class="c sm" style="left:975.75px;height:24.47px;line-height:25.869999999999997px;color:#2a2a2a">COPPELL, TX</div><svg class="abs" style="left:1090.5px;top:10.235px" width="5" height="7"><path d="M1.2 1.5 L3.2 3.6 L1.2 5.7" fill="none" stroke="#8a8a8a" stroke-width="1"/></svg><div class="c sm" style="right:297.5px;height:24.47px;line-height:25.869999999999997px;color:#2a2a2a">LUBBOCK, TX</div><div class="c sm" style="left:1230px;height:24.47px;line-height:25.869999999999997px;color:#2a2a2a">12/02/2024</div><svg class="abs" style="left:1284.3px;top:9.235px" width="5" height="7"><path d="M1.2 1.6 L3.2 3.6 L1.2 5.6" fill="none" stroke="#808080" stroke-width="1.2"/></svg><div class="c sm" style="left:1293px;height:24.47px;line-height:25.869999999999997px;color:#2a2a2a">12/03/2024</div><div class="c sm" style="left:1324px;width:200px;text-align:center;height:24.47px;line-height:25.869999999999997px;color:#2a2a2a">AMERICAN CARRIERS</div></div></div><div class="abs" style="left:75px;top:787.5px;width:1507px;height:54px;background:#fff;border-radius:0 0 8px 8px"></div><div class="abs" style="left:87.4px;top:788px;width:69.6px;height:54px;border-left:1px solid #f0f0f0;border-right:1px solid #f0f0f0;background:#fff"></div><div class="t" style="left:100.0px;top:796px;font-size:10.5px;letter-spacing:1.55px;color:#adadad">MILES</div><div class="t" style="left:100.0px;top:815px;font-size:14.7px;font-weight:bold;color:#2a78b6">57,598</div><div class="abs" style="left:170px;top:788px;width:85px;height:54px;border-left:1px solid #f0f0f0;border-right:1px solid #f0f0f0;background:#fff"></div><div class="t" style="left:182.6px;top:796px;font-size:10.5px;letter-spacing:1.55px;color:#adadad">REVENUE</div><div class="t" style="left:182.6px;top:815px;font-size:14.7px;font-weight:bold;color:#1e8e5e">$89,123</div><div class="abs" style="left:269px;top:788px;width:79.4px;height:54px;border-left:1px solid #f0f0f0;border-right:1px solid #f0f0f0;background:#fff"></div><div class="t" style="left:281.6px;top:796px;font-size:10.5px;letter-spacing:1.55px;color:#adadad">BASE</div><div class="t" style="left:281.6px;top:815px;font-size:14.7px;font-weight:bold;color:#1e8e5e">$88,791</div><div class="abs" style="left:361px;top:788px;width:61px;height:54px;border-left:1px solid #f0f0f0;border-right:1px solid #f0f0f0;background:#fff"></div><div class="t" style="left:373.6px;top:796px;font-size:10.5px;letter-spacing:1.55px;color:#adadad">RPM</div><div class="t" style="left:373.6px;top:815px;font-size:14.7px;font-weight:bold;color:#d98a1e">$1.54</div><div class="abs" style="left:435.6px;top:788px;width:67.4px;height:54px;border-left:1px solid #f0f0f0;border-right:1px solid #f0f0f0;background:#fff"></div><div class="t" style="left:448.20000000000005px;top:796px;font-size:10.5px;letter-spacing:1.55px;color:#adadad">LOADS</div><div class="t" style="left:448.20000000000005px;top:815px;font-size:14.7px;font-weight:bold;color:#2f58cc">25</div><div class="t" style="left:1250px;top:808.5px;font-size:10.6px;color:#7a7a7a">Rows per page:</div><div class="t" style="left:1345.5px;top:808.5px;font-size:10.5px;color:#666">25</div><svg class="abs" style="left:1373px;top:813px" width="7" height="5"><path d="M1 1 H6 L3.5 3.6z" fill="#666"/></svg><div class="t" style="left:1416px;top:808.5px;font-size:10.3px;color:#777">1–25 of 40</div><svg class="abs" style="left:1500px;top:806px" width="12" height="18"><path d="M9 3 L3.5 9 L9 15" fill="none" stroke="#c4c4c4" stroke-width="1.7"/></svg><svg class="abs" style="left:1541px;top:806px" width="12" height="18"><path d="M3 3 L8.5 9 L3 15" fill="none" stroke="#555" stroke-width="1.7"/></svg></div></body></html>
